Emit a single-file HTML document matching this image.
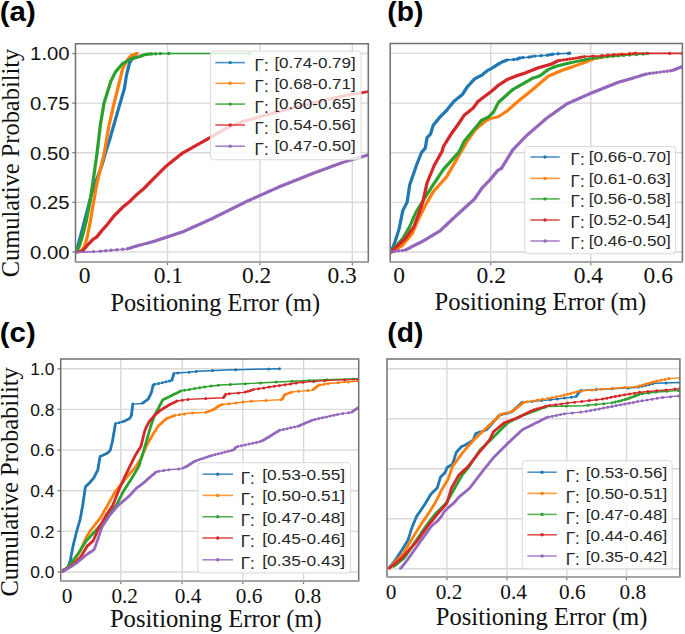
<!DOCTYPE html>
<html><head><meta charset="utf-8"><style>
html,body{margin:0;padding:0;background:#fff;}
svg{display:block;}
</style></head><body>
<svg width="685" height="634" viewBox="0 0 685 634">
<rect width="685" height="634" fill="#fff"/>
<clipPath id="clipA"><rect x="75.5" y="41.7" width="292.8" height="220.3"/></clipPath>
<line x1="75.5" x2="368.3" y1="251.9" y2="251.9" stroke="#d9d9d9" stroke-width="1.4"/>
<line x1="75.5" x2="368.3" y1="202.3" y2="202.3" stroke="#d9d9d9" stroke-width="1.4"/>
<line x1="75.5" x2="368.3" y1="152.7" y2="152.7" stroke="#d9d9d9" stroke-width="1.4"/>
<line x1="75.5" x2="368.3" y1="103.1" y2="103.1" stroke="#d9d9d9" stroke-width="1.4"/>
<line x1="75.5" x2="368.3" y1="53.5" y2="53.5" stroke="#d9d9d9" stroke-width="1.4"/>
<line x1="167.5" x2="167.5" y1="43.7" y2="262.0" stroke="#d9d9d9" stroke-width="1.4"/>
<line x1="259.9" x2="259.9" y1="43.7" y2="262.0" stroke="#d9d9d9" stroke-width="1.4"/>
<line x1="352.3" x2="352.3" y1="43.7" y2="262.0" stroke="#d9d9d9" stroke-width="1.4"/>
<line x1="72.3" x2="75.5" y1="251.9" y2="251.9" stroke="#777" stroke-width="1.2"/>
<line x1="72.3" x2="75.5" y1="202.3" y2="202.3" stroke="#777" stroke-width="1.2"/>
<line x1="72.3" x2="75.5" y1="152.7" y2="152.7" stroke="#777" stroke-width="1.2"/>
<line x1="72.3" x2="75.5" y1="103.1" y2="103.1" stroke="#777" stroke-width="1.2"/>
<line x1="72.3" x2="75.5" y1="53.5" y2="53.5" stroke="#777" stroke-width="1.2"/>
<line x1="167.5" x2="167.5" y1="262.0" y2="265.2" stroke="#777" stroke-width="1.2"/>
<line x1="259.9" x2="259.9" y1="262.0" y2="265.2" stroke="#777" stroke-width="1.2"/>
<line x1="352.3" x2="352.3" y1="262.0" y2="265.2" stroke="#777" stroke-width="1.2"/>
<g clip-path="url(#clipA)" fill="none" stroke-linejoin="round" stroke-linecap="round">
<polyline points="76,252 77.2,248.4 80.3,237 86,215.5 91,196 96.5,180 101.8,165.6 105.5,152.8 110.6,136.6 114.1,124 120.1,103.3 124.5,88.2 126.4,75.5 129.5,62.9 134.6,55.4 136.5,53.8" stroke="#1f77b4" stroke-width="1.6"/>
<path d="M76 252h0M76.2 251.5h0M76.3 251h0M76.5 250.5h0M76.7 249.9h0M76.9 249.4h0M77 248.9h0M77.2 248.4h0M77.3 247.9h0M77.5 247.4h0M77.6 246.9h0M77.8 246.4h0M77.9 245.9h0M78 245.4h0M78.2 244.9h0M78.3 244.3h0M78.4 243.8h0M78.6 243.3h0M78.7 242.8h0M78.9 242.3h0M79 241.8h0M79.1 241.3h0M79.3 240.8h0M79.4 240.3h0M79.5 239.8h0M79.7 239.3h0M79.8 238.8h0M80 238.3h0M80.1 237.8h0M80.2 237.3h0M80.4 236.8h0M80.5 236.2h0M80.6 235.8h0M80.8 235.2h0M80.9 234.8h0M81 234.2h0M81.2 233.8h0M81.3 233.2h0M81.4 232.8h0M81.6 232.2h0M81.7 231.8h0M81.8 231.2h0M82 230.8h0M82.1 230.2h0M82.2 229.8h0M82.4 229.2h0M82.5 228.8h0M82.6 228.2h0M82.8 227.8h0M82.9 227.2h0M83 226.8h0M83.2 226.2h0M83.3 225.8h0M83.4 225.2h0M83.5 224.8h0M83.7 224.2h0M83.8 223.8h0M83.9 223.2h0M84.1 222.8h0M84.2 222.2h0M84.3 221.8h0M84.5 221.2h0M84.6 220.8h0M84.7 220.2h0M84.9 219.8h0M85 219.2h0M85.1 218.8h0M85.3 218.2h0M85.4 217.8h0M85.5 217.2h0M85.7 216.8h0M85.8 216.2h0M85.9 215.8h0M86.1 215.2h0M86.2 214.8h0M86.3 214.2h0M86.4 213.8h0M86.6 213.2h0M86.7 212.8h0M86.8 212.2h0M87 211.8h0M87.1 211.2h0M87.2 210.8h0M87.3 210.2h0M87.5 209.8h0M87.6 209.2h0M87.7 208.8h0M87.9 208.2h0M88 207.8h0M88.1 207.2h0M88.2 206.8h0M88.4 206.2h0M88.5 205.8h0M88.6 205.2h0M88.8 204.8h0M88.9 204.2h0M89 203.8h0M89.1 203.2h0M89.3 202.8h0M89.4 202.2h0M89.5 201.8h0M89.7 201.2h0M89.8 200.8h0M89.9 200.2h0M90 199.8h0M90.2 199.2h0M90.3 198.8h0M90.4 198.2h0M90.6 197.8h0M90.7 197.2h0M90.8 196.8h0M90.9 196.2h0M91.1 195.8h0M91.3 195.2h0M91.4 194.8h0M91.6 194.2h0M91.8 193.8h0M91.9 193.2h0M92.1 192.8h0M92.3 192.2h0M92.5 191.8h0M92.6 191.2h0M92.8 190.8h0M93 190.2h0M93.1 189.8h0M93.3 189.2h0M93.5 188.8h0M93.7 188.2h0M93.8 187.8h0M94 187.2h0M94.2 186.8h0M94.4 186.2h0M94.5 185.8h0M94.7 185.2h0M94.9 184.8h0M95 184.2h0M95.2 183.8h0M95.4 183.2h0M95.6 182.8h0M95.7 182.2h0M95.9 181.8h0M96.1 181.2h0M96.2 180.8h0M96.4 180.2h0M96.6 179.7h0M96.8 179.2h0M97 178.7h0M97.2 178.2h0M97.3 177.7h0M97.5 177.2h0M97.7 176.7h0M97.9 176.2h0M98.1 175.7h0M98.3 175.2h0M98.5 174.7h0M98.6 174.2h0M98.8 173.7h0M99 173.2h0M99.2 172.7h0M99.4 172.2h0M99.6 171.7h0M99.8 171.2h0M99.9 170.7h0M100.1 170.1h0M100.3 169.6h0M100.5 169.1h0M100.7 168.6h0M100.9 168.1h0M101.1 167.6h0M101.2 167.1h0M101.4 166.6h0M101.6 166.1h0M101.8 165.6h0M101.9 165.1h0M102.1 164.6h0M102.2 164.1h0M102.4 163.6h0M102.5 163.1h0M102.7 162.6h0M102.8 162.1h0M103 161.6h0M103.1 161.1h0M103.3 160.6h0M103.4 160.1h0M103.5 159.6h0M103.7 159.1h0M103.8 158.6h0M104 158.1h0M104.1 157.6h0M104.3 157.1h0M104.4 156.6h0M104.6 156.1h0M104.7 155.6h0M104.8 155.1h0M105 154.6h0M105.1 154.1h0M105.3 153.6h0M105.4 153.1h0M105.6 152.5h0M105.7 152h0M105.9 151.5h0M106.1 151h0M106.2 150.5h0M106.4 150h0M106.5 149.5h0M106.7 149h0M106.9 148.5h0M107 148h0M107.2 147.5h0M107.3 147h0M107.5 146.5h0M107.7 146h0M107.8 145.5h0M108 145h0M108.1 144.4h0M108.3 143.9h0M108.4 143.4h0M108.6 142.9h0M108.8 142.4h0M108.9 141.9h0M109.1 141.4h0M109.2 140.9h0M109.4 140.4h0M109.6 139.9h0M109.7 139.4h0M109.9 138.9h0M110 138.4h0M110.2 137.9h0M110.4 137.4h0M110.5 136.9h0M110.7 136.3h0M110.8 135.8h0M110.9 135.3h0M111.1 134.8h0M111.2 134.3h0M111.4 133.8h0M111.5 133.3h0M111.6 132.8h0M111.8 132.3h0M111.9 131.8h0M112.1 131.3h0M112.2 130.8h0M112.3 130.3h0M112.5 129.8h0M112.6 129.3h0M112.8 128.8h0M112.9 128.3h0M113 127.8h0M113.2 127.3h0M113.3 126.8h0M113.5 126.3h0M113.6 125.8h0M113.8 125.3h0M113.9 124.8h0M114 124.3h0M114.2 123.7h0M114.3 123.2h0M114.5 122.7h0M114.6 122.2h0M114.8 121.7h0M114.9 121.2h0M115.1 120.7h0M115.2 120.2h0M115.3 119.7h0M115.5 119.2h0M115.6 118.7h0M115.8 118.2h0M115.9 117.7h0M116.1 117.2h0M116.2 116.7h0M116.4 116.2h0M116.5 115.7h0M116.7 115.2h0M116.8 114.7h0M117 114.2h0M117.1 113.7h0M117.2 113.1h0M117.4 112.6h0M117.5 112.1h0M117.7 111.6h0M117.8 111.1h0M118 110.6h0M118.1 110.1h0M118.3 109.6h0M118.4 109.1h0M118.6 108.6h0M118.7 108.1h0M118.9 107.6h0M119 107.1h0M119.1 106.6h0M119.3 106.1h0M119.4 105.6h0M119.6 105.1h0M119.7 104.6h0M119.9 104.1h0M120 103.6h0M120.2 103h0M120.3 102.5h0M120.5 102h0M120.6 101.5h0M120.8 101h0M120.9 100.5h0M121.1 100h0M121.2 99.5h0M121.3 99h0M121.5 98.5h0M121.6 98h0M121.8 97.5h0M121.9 97h0M122.1 96.5h0M122.2 96h0M122.4 95.5h0M122.5 95h0M122.7 94.5h0M122.8 94h0M123 93.5h0M123.1 93h0M123.3 92.5h0M123.4 92h0M123.5 91.5h0M123.7 91h0M123.8 90.5h0M124 90h0M124.1 89.5h0M124.3 89h0M124.4 88.5h0M124.5 87.9h0M124.6 87.4h0M124.7 86.9h0M124.8 86.4h0M124.8 85.9h0M124.9 85.4h0M125 84.9h0M125.1 84.4h0M125.1 83.9h0M125.2 83.4h0M125.3 82.9h0M125.4 82.4h0M125.5 81.8h0M125.5 81.3h0M125.6 80.8h0M125.7 80.3h0M125.8 79.8h0M125.8 79.3h0M125.9 78.8h0M126 78.3h0M126.1 77.8h0M126.1 77.3h0M126.2 76.8h0M126.3 76.3h0M126.4 75.8h0M126.5 75.2h0M126.6 74.7h0M126.7 74.2h0M126.8 73.7h0M127 73.2h0M127.1 72.7h0M127.2 72.2h0M127.3 71.7h0M127.5 71.2h0M127.6 70.7h0M127.7 70.2h0M127.8 69.7h0M128 69.2h0M128.1 68.7h0M128.2 68.2h0M128.3 67.7h0M128.4 67.2h0M128.6 66.7h0M128.7 66.2h0M128.8 65.7h0M128.9 65.2h0M129.1 64.7h0M129.2 64.2h0M129.3 63.7h0M129.4 63.2h0M129.7 62.6h0M130 62.1h0M130.3 61.6h0M130.7 61.1h0M131 60.6h0M131.4 60.1h0M131.7 59.6h0M132.1 59.1h0M132.4 58.6h0M132.7 58.1h0M133.1 57.6h0M133.4 57.1h0M133.8 56.6h0M134.1 56.1h0M134.4 55.6h0M134.9 55.2h0M135.4 54.7h0M136 54.3h0M136.5 53.8h0M136.5 53.8h0" stroke="#1f77b4" stroke-width="3.4"/>
<polyline points="76,252.3 77.8,252.1 81.6,250.9 84.7,245.8 87.2,237 90.2,221.9 93.5,202.5 96.8,184 104.3,152.8 109.3,124 114.1,103.3 119.4,81.9 122.6,69.2 127,60.4 131.4,55.4 137.1,53.5" stroke="#ff7f0e" stroke-width="1.6"/>
<path d="M76 252.3h0M78.8 251.8h0M80.3 251.3h0M81.8 250.6h0M82.1 250.1h0M82.4 249.6h0M82.7 249.1h0M83 248.6h0M83.3 248.1h0M83.6 247.6h0M83.9 247.1h0M84.2 246.6h0M84.5 246.1h0M84.8 245.5h0M84.9 245h0M85.1 244.5h0M85.2 244h0M85.3 243.5h0M85.5 243h0M85.6 242.5h0M85.8 242h0M85.9 241.5h0M86.1 241h0M86.2 240.5h0M86.3 240h0M86.5 239.5h0M86.6 239h0M86.8 238.5h0M86.9 238h0M87.1 237.5h0M87.2 237h0M87.3 236.5h0M87.4 236h0M87.5 235.5h0M87.6 235h0M87.7 234.5h0M87.8 234h0M87.9 233.5h0M88 233h0M88.1 232.5h0M88.2 232h0M88.3 231.5h0M88.4 231h0M88.5 230.5h0M88.6 230h0M88.7 229.4h0M88.8 228.9h0M88.9 228.4h0M89 227.9h0M89.1 227.4h0M89.2 226.9h0M89.3 226.4h0M89.4 225.9h0M89.5 225.4h0M89.6 224.9h0M89.7 224.4h0M89.8 223.9h0M89.9 223.4h0M90 222.9h0M90.1 222.4h0M90.2 221.9h0M90.3 221.4h0M90.4 220.9h0M90.5 220.4h0M90.5 219.9h0M90.6 219.4h0M90.7 218.9h0M90.8 218.4h0M90.9 217.9h0M91 217.4h0M91.1 216.9h0M91.1 216.4h0M91.2 215.9h0M91.3 215.3h0M91.4 214.8h0M91.5 214.3h0M91.6 213.8h0M91.7 213.3h0M91.7 212.8h0M91.8 212.3h0M91.9 211.8h0M92 211.3h0M92.1 210.8h0M92.2 210.3h0M92.3 209.8h0M92.3 209.3h0M92.4 208.8h0M92.5 208.3h0M92.6 207.8h0M92.7 207.3h0M92.8 206.8h0M92.9 206.3h0M92.9 205.8h0M93 205.3h0M93.1 204.8h0M93.2 204.3h0M93.3 203.8h0M93.4 203.3h0M93.5 202.8h0M93.5 202.2h0M93.6 201.8h0M93.7 201.2h0M93.8 200.8h0M93.9 200.2h0M94 199.8h0M94.1 199.2h0M94.2 198.8h0M94.3 198.2h0M94.3 197.8h0M94.4 197.2h0M94.5 196.8h0M94.6 196.2h0M94.7 195.8h0M94.8 195.2h0M94.9 194.8h0M95 194.2h0M95.1 193.8h0M95.2 193.2h0M95.2 192.8h0M95.3 192.2h0M95.4 191.8h0M95.5 191.2h0M95.6 190.8h0M95.7 190.2h0M95.8 189.8h0M95.9 189.2h0M96 188.8h0M96 188.2h0M96.1 187.8h0M96.2 187.2h0M96.3 186.8h0M96.4 186.2h0M96.5 185.8h0M96.6 185.2h0M96.7 184.8h0M96.8 184.2h0M96.9 183.7h0M97 183.2h0M97.1 182.7h0M97.2 182.2h0M97.3 181.7h0M97.5 181.2h0M97.6 180.7h0M97.7 180.2h0M97.8 179.7h0M97.9 179.2h0M98.1 178.7h0M98.2 178.2h0M98.3 177.7h0M98.4 177.2h0M98.6 176.7h0M98.7 176.2h0M98.8 175.7h0M98.9 175.2h0M99 174.7h0M99.2 174.2h0M99.3 173.7h0M99.4 173.2h0M99.5 172.7h0M99.6 172.2h0M99.8 171.7h0M99.9 171.2h0M100 170.7h0M100.1 170.2h0M100.2 169.7h0M100.4 169.2h0M100.5 168.7h0M100.6 168.1h0M100.7 167.6h0M100.9 167.1h0M101 166.6h0M101.1 166.1h0M101.2 165.6h0M101.3 165.1h0M101.5 164.6h0M101.6 164.1h0M101.7 163.6h0M101.8 163.1h0M101.9 162.6h0M102.1 162.1h0M102.2 161.6h0M102.3 161.1h0M102.4 160.6h0M102.5 160.1h0M102.7 159.6h0M102.8 159.1h0M102.9 158.6h0M103 158.1h0M103.2 157.6h0M103.3 157.1h0M103.4 156.6h0M103.5 156.1h0M103.6 155.6h0M103.8 155.1h0M103.9 154.6h0M104 154.1h0M104.1 153.6h0M104.2 153.1h0M104.3 152.5h0M104.4 152h0M104.5 151.5h0M104.6 151h0M104.7 150.5h0M104.8 150h0M104.9 149.5h0M105 149h0M105 148.5h0M105.1 148h0M105.2 147.5h0M105.3 147h0M105.4 146.5h0M105.5 146h0M105.6 145.5h0M105.6 145h0M105.7 144.5h0M105.8 144h0M105.9 143.5h0M106 143h0M106.1 142.5h0M106.2 142h0M106.3 141.5h0M106.3 141h0M106.4 140.5h0M106.5 140h0M106.6 139.5h0M106.7 139h0M106.8 138.5h0M106.9 138h0M107 137.5h0M107 137h0M107.1 136.5h0M107.2 136h0M107.3 135.5h0M107.4 135h0M107.5 134.5h0M107.6 134h0M107.6 133.5h0M107.7 133h0M107.8 132.5h0M107.9 132h0M108 131.5h0M108.1 131h0M108.2 130.5h0M108.3 130h0M108.3 129.5h0M108.4 129h0M108.5 128.5h0M108.6 128h0M108.7 127.5h0M108.8 127h0M108.9 126.5h0M109 126h0M109 125.5h0M109.1 125h0M109.2 124.5h0M109.3 124h0M109.4 123.5h0M109.5 123h0M109.7 122.5h0M109.8 122h0M109.9 121.5h0M110 121h0M110.1 120.5h0M110.2 120h0M110.4 119.5h0M110.5 119h0M110.6 118.4h0M110.7 117.9h0M110.8 117.4h0M110.9 116.9h0M111.1 116.4h0M111.2 115.9h0M111.3 115.4h0M111.4 114.9h0M111.5 114.4h0M111.6 113.9h0M111.8 113.4h0M111.9 112.9h0M112 112.4h0M112.1 111.9h0M112.2 111.4h0M112.3 110.9h0M112.5 110.4h0M112.6 109.9h0M112.7 109.4h0M112.8 108.9h0M112.9 108.3h0M113 107.8h0M113.2 107.3h0M113.3 106.8h0M113.4 106.3h0M113.5 105.8h0M113.6 105.3h0M113.7 104.8h0M113.9 104.3h0M114 103.8h0M114.1 103.3h0M114.2 102.8h0M114.3 102.3h0M114.5 101.8h0M114.6 101.3h0M114.7 100.8h0M114.8 100.3h0M115 99.8h0M115.1 99.3h0M115.2 98.8h0M115.3 98.3h0M115.5 97.8h0M115.6 97.3h0M115.7 96.8h0M115.8 96.3h0M116 95.7h0M116.1 95.2h0M116.2 94.7h0M116.3 94.2h0M116.5 93.7h0M116.6 93.2h0M116.7 92.7h0M116.8 92.2h0M117 91.7h0M117.1 91.2h0M117.2 90.7h0M117.3 90.2h0M117.5 89.7h0M117.6 89.2h0M117.7 88.7h0M117.8 88.2h0M118 87.7h0M118.1 87.2h0M118.2 86.7h0M118.3 86.2h0M118.5 85.7h0M118.6 85.2h0M118.7 84.7h0M118.8 84.2h0M119 83.7h0M119.1 83.2h0M119.2 82.7h0M119.3 82.2h0M119.5 81.6h0M119.6 81.1h0M119.7 80.6h0M119.8 80.1h0M120 79.6h0M120.1 79.1h0M120.2 78.6h0M120.4 78.1h0M120.5 77.6h0M120.6 77.1h0M120.7 76.6h0M120.9 76.1h0M121 75.6h0M121.1 75h0M121.3 74.5h0M121.4 74h0M121.5 73.5h0M121.6 73h0M121.8 72.5h0M121.9 72h0M122 71.5h0M122.2 71h0M122.3 70.5h0M122.4 70h0M122.5 69.5h0M122.7 68.9h0M123 68.4h0M123.2 67.9h0M123.5 67.4h0M123.7 66.9h0M124 66.4h0M124.2 65.9h0M124.5 65.4h0M124.7 64.9h0M125 64.4h0M125.2 63.9h0M125.5 63.4h0M125.7 62.9h0M126 62.4h0M126.2 61.9h0M126.5 61.4h0M126.7 60.9h0M127 60.4h0M127.4 59.9h0M127.9 59.4h0M128.3 58.9h0M128.8 58.4h0M129.2 57.9h0M129.6 57.4h0M130.1 56.9h0M130.5 56.4h0M131 55.9h0M131.4 55.4h0M133 54.9h0M134.5 54.4h0M136.1 53.8h0M137.1 53.5h0" stroke="#ff7f0e" stroke-width="3.4"/>
<polyline points="76.5,251.5 79,247 82.2,237 86,221.9 89.8,202.5 92.7,184 97.1,152.8 100.5,124 104,103.3 110.6,81.9 115.6,71.8 122.6,63.6 130.8,59.1 139.6,56.6 144.7,54.6 147.5,54.2 151.8,53.9 155.6,53.7 160.4,53.6 168.9,53.5 249.6,53.5" stroke="#2ca02c" stroke-width="1.6"/>
<path d="M76.5 251.5h0M76.8 251h0M77.1 250.5h0M77.3 250h0M77.6 249.5h0M77.9 249h0M78.2 248.5h0M78.4 248h0M78.7 247.5h0M79 247h0M79.2 246.5h0M79.3 246h0M79.5 245.5h0M79.6 245h0M79.8 244.5h0M80 244h0M80.1 243.5h0M80.3 243h0M80.4 242.5h0M80.6 242h0M80.8 241.5h0M80.9 241h0M81.1 240.5h0M81.2 240h0M81.4 239.5h0M81.6 239h0M81.7 238.5h0M81.9 238h0M82 237.5h0M82.2 237h0M82.3 236.5h0M82.5 236h0M82.6 235.5h0M82.7 235h0M82.8 234.5h0M83 234h0M83.1 233.5h0M83.2 233h0M83.3 232.5h0M83.5 232h0M83.6 231.5h0M83.7 231h0M83.8 230.5h0M84 230h0M84.1 229.4h0M84.2 228.9h0M84.4 228.4h0M84.5 227.9h0M84.6 227.4h0M84.7 226.9h0M84.9 226.4h0M85 225.9h0M85.1 225.4h0M85.2 224.9h0M85.4 224.4h0M85.5 223.9h0M85.6 223.4h0M85.7 222.9h0M85.9 222.4h0M86 221.9h0M86.1 221.4h0M86.2 220.9h0M86.3 220.4h0M86.4 219.9h0M86.5 219.4h0M86.6 218.9h0M86.7 218.4h0M86.8 217.9h0M86.9 217.4h0M87 216.9h0M87.1 216.4h0M87.2 215.9h0M87.3 215.3h0M87.4 214.8h0M87.5 214.3h0M87.6 213.8h0M87.7 213.3h0M87.8 212.8h0M87.9 212.3h0M88 211.8h0M88.1 211.3h0M88.2 210.8h0M88.3 210.3h0M88.4 209.8h0M88.5 209.3h0M88.6 208.8h0M88.7 208.3h0M88.8 207.8h0M88.9 207.3h0M89 206.8h0M89.1 206.3h0M89.2 205.8h0M89.3 205.3h0M89.4 204.8h0M89.5 204.3h0M89.6 203.8h0M89.7 203.3h0M89.8 202.8h0M89.8 202.2h0M89.9 201.8h0M90 201.2h0M90.1 200.8h0M90.2 200.2h0M90.2 199.8h0M90.3 199.2h0M90.4 198.8h0M90.5 198.2h0M90.5 197.8h0M90.6 197.2h0M90.7 196.8h0M90.8 196.2h0M90.9 195.8h0M90.9 195.2h0M91 194.8h0M91.1 194.2h0M91.2 193.8h0M91.2 193.2h0M91.3 192.8h0M91.4 192.2h0M91.5 191.8h0M91.6 191.2h0M91.6 190.8h0M91.7 190.2h0M91.8 189.8h0M91.9 189.2h0M92 188.8h0M92 188.2h0M92.1 187.8h0M92.2 187.2h0M92.3 186.8h0M92.3 186.2h0M92.4 185.8h0M92.5 185.2h0M92.6 184.8h0M92.7 184.2h0M92.7 183.7h0M92.8 183.2h0M92.9 182.7h0M92.9 182.2h0M93 181.7h0M93.1 181.2h0M93.2 180.7h0M93.2 180.2h0M93.3 179.7h0M93.4 179.2h0M93.4 178.7h0M93.5 178.2h0M93.6 177.7h0M93.7 177.2h0M93.7 176.7h0M93.8 176.2h0M93.9 175.7h0M93.9 175.2h0M94 174.7h0M94.1 174.2h0M94.2 173.7h0M94.2 173.2h0M94.3 172.7h0M94.4 172.2h0M94.4 171.7h0M94.5 171.2h0M94.6 170.7h0M94.7 170.2h0M94.7 169.7h0M94.8 169.2h0M94.9 168.7h0M94.9 168.1h0M95 167.6h0M95.1 167.1h0M95.1 166.6h0M95.2 166.1h0M95.3 165.6h0M95.4 165.1h0M95.4 164.6h0M95.5 164.1h0M95.6 163.6h0M95.6 163.1h0M95.7 162.6h0M95.8 162.1h0M95.9 161.6h0M95.9 161.1h0M96 160.6h0M96.1 160.1h0M96.1 159.6h0M96.2 159.1h0M96.3 158.6h0M96.4 158.1h0M96.4 157.6h0M96.5 157.1h0M96.6 156.6h0M96.6 156.1h0M96.7 155.6h0M96.8 155.1h0M96.9 154.6h0M96.9 154.1h0M97 153.6h0M97.1 153.1h0M97.1 152.5h0M97.2 152h0M97.2 151.5h0M97.3 151h0M97.4 150.5h0M97.4 150h0M97.5 149.5h0M97.5 149h0M97.6 148.5h0M97.7 148h0M97.7 147.5h0M97.8 147h0M97.8 146.5h0M97.9 146h0M98 145.5h0M98 145h0M98.1 144.5h0M98.1 144h0M98.2 143.5h0M98.3 143h0M98.3 142.5h0M98.4 142h0M98.4 141.5h0M98.5 141h0M98.5 140.5h0M98.6 140h0M98.7 139.5h0M98.7 139h0M98.8 138.5h0M98.8 138h0M98.9 137.5h0M99 137h0M99 136.5h0M99.1 136h0M99.1 135.5h0M99.2 135h0M99.3 134.5h0M99.3 134h0M99.4 133.5h0M99.4 133h0M99.5 132.5h0M99.6 132h0M99.6 131.5h0M99.7 131h0M99.7 130.5h0M99.8 130h0M99.8 129.5h0M99.9 129h0M100 128.5h0M100 128h0M100.1 127.5h0M100.1 127h0M100.2 126.5h0M100.3 126h0M100.3 125.5h0M100.4 125h0M100.4 124.5h0M100.5 124h0M100.6 123.5h0M100.7 123h0M100.8 122.5h0M100.8 122h0M100.9 121.5h0M101 121h0M101.1 120.5h0M101.2 120h0M101.3 119.5h0M101.4 119h0M101.4 118.4h0M101.5 117.9h0M101.6 117.4h0M101.7 116.9h0M101.8 116.4h0M101.9 115.9h0M102 115.4h0M102 114.9h0M102.1 114.4h0M102.2 113.9h0M102.3 113.4h0M102.4 112.9h0M102.5 112.4h0M102.5 111.9h0M102.6 111.4h0M102.7 110.9h0M102.8 110.4h0M102.9 109.9h0M103 109.4h0M103.1 108.9h0M103.1 108.3h0M103.2 107.8h0M103.3 107.3h0M103.4 106.8h0M103.5 106.3h0M103.6 105.8h0M103.7 105.3h0M103.7 104.8h0M103.8 104.3h0M103.9 103.8h0M104 103.3h0M104.2 102.8h0M104.3 102.3h0M104.5 101.8h0M104.6 101.3h0M104.8 100.8h0M104.9 100.3h0M105.1 99.8h0M105.2 99.3h0M105.4 98.8h0M105.6 98.3h0M105.7 97.8h0M105.9 97.3h0M106 96.8h0M106.2 96.3h0M106.3 95.7h0M106.5 95.2h0M106.6 94.7h0M106.8 94.2h0M107 93.7h0M107.1 93.2h0M107.3 92.7h0M107.4 92.2h0M107.6 91.7h0M107.7 91.2h0M107.9 90.7h0M108 90.2h0M108.2 89.7h0M108.3 89.2h0M108.5 88.7h0M108.7 88.2h0M108.8 87.7h0M109 87.2h0M109.1 86.7h0M109.3 86.2h0M109.4 85.7h0M109.6 85.2h0M109.7 84.7h0M109.9 84.2h0M110.1 83.7h0M110.2 83.2h0M110.4 82.7h0M110.5 82.2h0M110.7 81.6h0M111 81.1h0M111.2 80.6h0M111.5 80.1h0M111.7 79.6h0M112 79.1h0M112.2 78.6h0M112.5 78.1h0M112.7 77.6h0M113 77.1h0M113.2 76.6h0M113.5 76.1h0M113.7 75.6h0M114 75.1h0M114.2 74.6h0M114.5 74.1h0M114.7 73.6h0M115 73.1h0M115.2 72.6h0M115.5 72.1h0M115.8 71.5h0M116.3 71h0M116.7 70.5h0M117.1 70h0M117.6 69.5h0M118 69h0M118.4 68.5h0M118.9 68h0M119.3 67.4h0M119.8 66.9h0M120.2 66.4h0M120.6 65.9h0M121.1 65.4h0M121.5 64.9h0M121.9 64.4h0M122.4 63.9h0M123.1 63.3h0M124.1 62.8h0M125.2 62.2h0M126.2 61.6h0M127.2 61.1h0M128.2 60.5h0M129.3 59.9h0M130.3 59.4h0M131.6 58.9h0M133.3 58.4h0M135.1 57.9h0M136.8 57.4h0M138.6 56.9h0M140.1 56.4h0M141.4 55.9h0M142.7 55.4h0M143.9 54.9h0M146 54.4h0M151 54h0M168.7 53.5h0M249.6 53.5h0M147.5 54.2h0M149.5 54h0M151.8 53.9h0M155.6 53.7h0M160.4 53.6h0M168.9 53.5h0" stroke="#2ca02c" stroke-width="3.4"/>
<polyline points="76.5,252.1 82.8,250.9 87.9,244.6 92.9,239.5 96.7,237 101.8,230.7 107.4,224.4 114.4,215.5 123.2,206.7 129.5,201.7 135.8,195.4 144.7,187.8 150,182.2 166.1,166.1 182.2,153.3 207.9,138.8 230.4,125.9 246.5,120.5 278.7,111.5 310.8,103.4 343,96 368.3,91.5" stroke="#d62728" stroke-width="1.6"/>
<path d="M76.5 252.1h0M79 251.6h0M81.5 251.1h0M83 250.6h0M83.4 250.1h0M83.8 249.6h0M84.2 249.1h0M84.6 248.6h0M85 248.1h0M85.5 247.6h0M85.9 247.1h0M86.3 246.6h0M86.7 246.1h0M87.1 245.6h0M87.5 245.1h0M87.9 244.6h0M88.4 244.1h0M88.9 243.6h0M89.4 243.1h0M89.9 242.6h0M90.4 242.1h0M90.9 241.5h0M91.4 241h0M91.9 240.5h0M92.4 240h0M92.9 239.5h0M93.7 239h0M94.4 238.5h0M95.2 238h0M95.9 237.5h0M96.7 237h0M97.1 236.5h0M97.5 236h0M97.9 235.5h0M98.3 235h0M98.7 234.5h0M99.1 234h0M99.6 233.5h0M100 233h0M100.4 232.5h0M100.8 232h0M101.2 231.5h0M101.6 231h0M102 230.4h0M102.5 229.9h0M102.9 229.4h0M103.4 228.9h0M103.8 228.4h0M104.3 227.9h0M104.7 227.4h0M105.2 226.9h0M105.6 226.4h0M106.1 225.9h0M106.5 225.4h0M107 224.9h0M107.4 224.4h0M107.8 223.9h0M108.2 223.4h0M108.6 222.9h0M109 222.4h0M109.4 221.9h0M109.8 221.3h0M110.2 220.8h0M110.6 220.3h0M111 219.8h0M111.4 219.3h0M111.8 218.8h0M112.2 218.3h0M112.6 217.8h0M113 217.3h0M113.4 216.8h0M113.8 216.3h0M114.2 215.8h0M114.7 215.2h0M115.2 214.7h0M115.7 214.2h0M116.2 213.7h0M116.7 213.2h0M117.2 212.7h0M117.7 212.2h0M118.2 211.7h0M118.7 211.2h0M119.2 210.7h0M119.7 210.2h0M120.2 209.7h0M120.7 209.2h0M121.2 208.7h0M121.7 208.2h0M122.2 207.7h0M122.7 207.2h0M123.2 206.7h0M124 206.1h0M124.7 205.5h0M125.5 204.9h0M126.2 204.3h0M127 203.7h0M127.7 203.1h0M128.5 202.5h0M129.2 201.9h0M129.8 201.4h0M130.3 200.9h0M130.8 200.4h0M131.3 199.9h0M131.8 199.4h0M132.3 198.9h0M132.8 198.4h0M133.3 197.9h0M133.8 197.4h0M134.3 196.9h0M134.8 196.4h0M135.3 195.9h0M135.8 195.4h0M136.6 194.7h0M137.3 194.1h0M138.1 193.4h0M138.9 192.8h0M139.6 192.1h0M140.4 191.5h0M141.1 190.8h0M141.9 190.2h0M142.7 189.5h0M143.4 188.9h0M144.2 188.2h0M144.9 187.5h0M145.4 187h0M145.9 186.5h0M146.4 186h0M146.9 185.5h0M147.3 185h0M147.8 184.5h0M148.3 184h0M148.8 183.5h0M149.3 183h0M149.8 182.5h0M150.3 181.9h0M150.8 181.4h0M151.3 180.9h0M151.8 180.4h0M152.3 179.9h0M152.8 179.4h0M153.3 178.9h0M153.8 178.4h0M154.3 177.9h0M154.8 177.4h0M155.3 176.9h0M155.8 176.4h0M156.3 175.9h0M156.8 175.4h0M157.3 174.9h0M157.8 174.4h0M158.3 173.9h0M158.8 173.4h0M159.3 172.9h0M159.8 172.4h0M160.3 171.9h0M160.8 171.4h0M161.3 170.9h0M161.8 170.4h0M162.3 169.9h0M162.8 169.4h0M163.3 168.9h0M163.8 168.4h0M164.3 167.9h0M164.8 167.4h0M165.3 166.9h0M165.8 166.4h0M166.4 165.9h0M167.1 165.3h0M167.9 164.7h0M168.6 164.1h0M169.4 163.5h0M170.1 162.9h0M170.9 162.3h0M171.6 161.7h0M172.4 161.1h0M173.1 160.5h0M173.9 159.9h0M174.7 159.3h0M175.4 158.7h0M176.2 158.1h0M176.9 157.5h0M177.7 156.9h0M178.4 156.3h0M179.2 155.7h0M179.9 155.1h0M180.7 154.5h0M181.4 153.9h0M182.2 153.3h0M183.2 152.7h0M184.2 152.2h0M185.2 151.6h0M186.2 151h0M187.2 150.5h0M188.2 149.9h0M189.3 149.3h0M190.3 148.8h0M191.3 148.2h0M192.3 147.6h0M193.3 147h0M194.3 146.5h0M195.3 145.9h0M196.3 145.3h0M197.3 144.8h0M198.3 144.2h0M199.3 143.6h0M200.3 143.1h0M201.3 142.5h0M202.4 141.9h0M203.4 141.4h0M204.4 140.8h0M205.4 140.2h0M206.4 139.7h0M207.4 139.1h0M208.4 138.5h0M209.4 137.9h0M210.4 137.4h0M211.4 136.8h0M212.4 136.2h0M213.4 135.6h0M214.4 135.1h0M215.4 134.5h0M216.4 133.9h0M217.4 133.4h0M218.4 132.8h0M219.4 132.2h0M220.4 131.6h0M221.4 131.1h0M222.4 130.5h0M223.4 129.9h0M224.4 129.3h0M225.4 128.8h0M226.4 128.2h0M227.4 127.6h0M228.4 127h0M229.4 126.5h0M230.4 125.9h0M231.9 125.4h0M233.4 124.9h0M234.9 124.4h0M236.4 123.9h0M237.9 123.4h0M239.5 122.9h0M241 122.4h0M242.5 121.8h0M244 121.3h0M245.5 120.8h0M247 120.4h0M248.8 119.9h0M250.5 119.4h0M252.3 118.9h0M254 118.4h0M255.8 117.9h0M257.6 117.4h0M259.3 116.9h0M261.1 116.4h0M262.9 115.9h0M264.6 115.4h0M266.4 114.9h0M268.1 114.5h0M269.9 114h0M271.7 113.5h0M273.4 113h0M275.2 112.5h0M276.9 112h0M278.7 111.5h0M280.7 111h0M282.7 110.5h0M284.7 110h0M286.7 109.5h0M288.7 109h0M290.7 108.5h0M292.7 108h0M294.8 107.5h0M296.8 106.9h0M298.8 106.4h0M300.8 105.9h0M302.8 105.4h0M304.8 104.9h0M306.8 104.4h0M308.8 103.9h0M310.8 103.4h0M312.8 102.9h0M314.8 102.5h0M316.8 102h0M318.9 101.6h0M320.9 101.1h0M322.9 100.6h0M324.9 100.2h0M326.9 99.7h0M328.9 99.2h0M330.9 98.8h0M332.9 98.3h0M334.9 97.8h0M337 97.4h0M339 96.9h0M341 96.5h0M343 96h0M345.8 95.5h0M348.5 95h0M351.3 94.5h0M354 94h0M356.8 93.5h0M359.5 93.1h0M362.3 92.6h0M365 92.1h0M367.8 91.6h0M368.3 91.5h0" stroke="#d62728" stroke-width="3.4"/>
<polyline points="76.5,252.1 84.1,252.1 96.7,251.5 111.9,250.2 127,249 137.1,245.8 154,241.4 182.2,232.1 214.3,217.6 246.5,201.5 278.7,187.1 310.8,174.2 343,162.3 368.3,154.9" stroke="#9467bd" stroke-width="1.6"/>
<path d="M76.5 252.1h0M93.7 251.6h0M100.5 251.2h0M105.8 250.7h0M111.1 250.3h0M116.9 249.8h0M122.7 249.3h0M127.5 248.8h0M129 248.4h0M130.5 247.9h0M132.1 247.4h0M133.6 246.9h0M135.1 246.4h0M136.6 246h0M138.4 245.5h0M140.1 245h0M141.9 244.6h0M143.7 244.1h0M145.4 243.6h0M147.2 243.2h0M149 242.7h0M150.7 242.3h0M152.5 241.8h0M154.3 241.3h0M155.8 240.8h0M157.3 240.3h0M158.8 239.8h0M160.3 239.3h0M161.8 238.8h0M163.3 238.3h0M164.8 237.8h0M166.3 237.3h0M167.8 236.8h0M169.4 236.3h0M170.9 235.8h0M172.4 235.3h0M173.9 234.8h0M175.4 234.3h0M176.9 233.8h0M178.4 233.3h0M179.9 232.8h0M181.4 232.3h0M182.7 231.9h0M183.7 231.4h0M184.7 231h0M185.7 230.5h0M186.7 230.1h0M187.7 229.6h0M188.7 229.2h0M189.7 228.7h0M190.7 228.2h0M191.7 227.8h0M192.7 227.3h0M193.7 226.9h0M194.7 226.4h0M195.7 226h0M196.7 225.5h0M197.7 225.1h0M198.8 224.6h0M199.8 224.2h0M200.8 223.7h0M201.8 223.3h0M202.8 222.8h0M203.8 222.4h0M204.8 221.9h0M205.8 221.5h0M206.8 221h0M207.8 220.5h0M208.8 220.1h0M209.8 219.6h0M210.8 219.2h0M211.8 218.7h0M212.8 218.3h0M213.8 217.8h0M214.8 217.3h0M215.8 216.8h0M216.8 216.3h0M217.8 215.8h0M218.8 215.3h0M219.8 214.8h0M220.8 214.3h0M221.8 213.8h0M222.9 213.3h0M223.9 212.8h0M224.9 212.3h0M225.9 211.8h0M226.9 211.3h0M227.9 210.8h0M228.9 210.3h0M229.9 209.8h0M230.9 209.3h0M231.9 208.8h0M232.9 208.3h0M233.9 207.8h0M234.9 207.3h0M235.9 206.8h0M236.9 206.3h0M237.9 205.8h0M239 205.3h0M240 204.8h0M241 204.3h0M242 203.8h0M243 203.3h0M244 202.8h0M245 202.3h0M246 201.8h0M247 201.3h0M248 200.8h0M249.3 200.3h0M250.5 199.7h0M251.8 199.1h0M253 198.6h0M254.3 198h0M255.6 197.4h0M256.8 196.9h0M258.1 196.3h0M259.3 195.8h0M260.6 195.2h0M261.8 194.6h0M263.1 194.1h0M264.4 193.5h0M265.6 192.9h0M266.9 192.4h0M268.1 191.8h0M269.4 191.3h0M270.6 190.7h0M271.9 190.1h0M273.2 189.6h0M274.4 189h0M275.7 188.4h0M276.9 187.9h0M278.2 187.3h0M279.5 186.8h0M280.7 186.3h0M282 185.8h0M283.2 185.3h0M284.5 184.8h0M285.7 184.3h0M287 183.8h0M288.2 183.3h0M289.5 182.8h0M290.7 182.3h0M292 181.8h0M293.2 181.3h0M294.5 180.8h0M295.8 180.2h0M297 179.7h0M298.3 179.2h0M299.5 178.7h0M300.8 178.2h0M302 177.7h0M303.3 177.2h0M304.5 176.7h0M305.8 176.2h0M307 175.7h0M308.3 175.2h0M309.5 174.7h0M310.8 174.2h0M312.1 173.7h0M313.3 173.3h0M314.6 172.8h0M315.8 172.3h0M317.1 171.9h0M318.3 171.4h0M319.6 170.9h0M320.9 170.5h0M322.1 170h0M323.4 169.6h0M324.6 169.1h0M325.9 168.6h0M327.2 168.2h0M328.4 167.7h0M329.7 167.2h0M330.9 166.8h0M332.2 166.3h0M333.4 165.8h0M334.7 165.4h0M336 164.9h0M337.2 164.4h0M338.5 164h0M339.7 163.5h0M341 163h0M342.2 162.6h0M343.8 162.1h0M345.5 161.6h0M347.3 161.1h0M349 160.5h0M350.8 160h0M352.5 159.5h0M354.3 159h0M356 158.5h0M357.8 158h0M359.5 157.5h0M361.3 157h0M363 156.4h0M364.8 155.9h0M366.5 155.4h0M368.3 154.9h0M368.3 154.9h0" stroke="#9467bd" stroke-width="3.4"/>
</g>
<path d="M75.5,262.0 L75.5,43.7 L368.3,43.7 L368.3,262.0" fill="none" stroke="#707070" stroke-width="1.5"/>
<line x1="74.8" x2="369" y1="262.0" y2="262.0" stroke="#a5a5a5" stroke-width="2"/>
<rect x="210.4" y="51.1" width="150.6" height="108.6" rx="3" fill="#fff" fill-opacity="0.8" stroke="#dadada" stroke-width="1"/>
<line x1="215.3" x2="245" y1="62.6" y2="62.6" stroke="#1f77b4" stroke-width="1.6" stroke-opacity="0.8"/>
<circle cx="230.2" cy="62.6" r="1.7" fill="#1f77b4"/>
<text x="254.6" y="71.1" font-family="Liberation Sans, sans-serif" font-size="17" fill="#262626">Γ:</text>
<text x="274.4" y="67.8" font-family="Liberation Sans, sans-serif" font-size="15.3" fill="#262626" textLength="81.4" lengthAdjust="spacingAndGlyphs">[0.74-0.79]</text>
<line x1="215.3" x2="245" y1="83.3" y2="83.3" stroke="#ff7f0e" stroke-width="1.6" stroke-opacity="0.8"/>
<circle cx="230.2" cy="83.3" r="1.7" fill="#ff7f0e"/>
<text x="254.6" y="91.8" font-family="Liberation Sans, sans-serif" font-size="17" fill="#262626">Γ:</text>
<text x="274.4" y="88.5" font-family="Liberation Sans, sans-serif" font-size="15.3" fill="#262626" textLength="81.4" lengthAdjust="spacingAndGlyphs">[0.68-0.71]</text>
<line x1="215.3" x2="245" y1="104.1" y2="104.1" stroke="#2ca02c" stroke-width="1.6" stroke-opacity="0.8"/>
<circle cx="230.2" cy="104.1" r="1.7" fill="#2ca02c"/>
<text x="254.6" y="112.6" font-family="Liberation Sans, sans-serif" font-size="17" fill="#262626">Γ:</text>
<text x="274.4" y="109.3" font-family="Liberation Sans, sans-serif" font-size="15.3" fill="#262626" textLength="81.4" lengthAdjust="spacingAndGlyphs">[0.60-0.65]</text>
<line x1="215.3" x2="245" y1="125" y2="125" stroke="#d62728" stroke-width="1.6" stroke-opacity="0.8"/>
<circle cx="230.2" cy="125" r="1.7" fill="#d62728"/>
<text x="254.6" y="133.5" font-family="Liberation Sans, sans-serif" font-size="17" fill="#262626">Γ:</text>
<text x="274.4" y="130.2" font-family="Liberation Sans, sans-serif" font-size="15.3" fill="#262626" textLength="81.4" lengthAdjust="spacingAndGlyphs">[0.54-0.56]</text>
<line x1="215.3" x2="245" y1="146.2" y2="146.2" stroke="#9467bd" stroke-width="1.6" stroke-opacity="0.8"/>
<circle cx="230.2" cy="146.2" r="1.7" fill="#9467bd"/>
<text x="254.6" y="154.7" font-family="Liberation Sans, sans-serif" font-size="17" fill="#262626">Γ:</text>
<text x="274.4" y="151.4" font-family="Liberation Sans, sans-serif" font-size="15.3" fill="#262626" textLength="81.4" lengthAdjust="spacingAndGlyphs">[0.47-0.50]</text>
<text x="69.6" y="258.7" font-family="Liberation Sans, sans-serif" font-size="19" text-anchor="end" fill="#111" textLength="39.5" lengthAdjust="spacingAndGlyphs">0.00</text>
<text x="69.6" y="209.1" font-family="Liberation Sans, sans-serif" font-size="19" text-anchor="end" fill="#111" textLength="39.5" lengthAdjust="spacingAndGlyphs">0.25</text>
<text x="69.6" y="159.5" font-family="Liberation Sans, sans-serif" font-size="19" text-anchor="end" fill="#111" textLength="39.5" lengthAdjust="spacingAndGlyphs">0.50</text>
<text x="69.6" y="109.9" font-family="Liberation Sans, sans-serif" font-size="19" text-anchor="end" fill="#111" textLength="39.5" lengthAdjust="spacingAndGlyphs">0.75</text>
<text x="69.6" y="60.3" font-family="Liberation Sans, sans-serif" font-size="19" text-anchor="end" fill="#111" textLength="39.5" lengthAdjust="spacingAndGlyphs">1.00</text>
<text x="84.6" y="283.3" font-family="Liberation Serif, serif" font-size="23.5" text-anchor="middle" fill="#111">0</text>
<text x="168.4" y="283.3" font-family="Liberation Serif, serif" font-size="23.5" text-anchor="middle" fill="#111">0.1</text>
<text x="256.6" y="283.3" font-family="Liberation Serif, serif" font-size="23.5" text-anchor="middle" fill="#111">0.2</text>
<text x="342.1" y="283.3" font-family="Liberation Serif, serif" font-size="23.5" text-anchor="middle" fill="#111">0.3</text>
<text x="110.4" y="310.5" font-family="Liberation Serif, serif" font-size="24.8" fill="#111" textLength="209.8" lengthAdjust="spacingAndGlyphs">Positioning Error (m)</text>
<text transform="translate(19.4,277.2) rotate(-90)" x="0" y="0" font-family="Liberation Serif, serif" font-size="24.8" fill="#111" textLength="228.4" lengthAdjust="spacingAndGlyphs">Cumulative Probability</text>
<text x="-0.2" y="21.4" font-family="Liberation Sans, sans-serif" font-weight="bold" font-size="27.5" fill="#000" textLength="36" lengthAdjust="spacingAndGlyphs">(a)</text>
<clipPath id="clipB"><rect x="390.2" y="41.6" width="292.2" height="220.4"/></clipPath>
<line x1="390.2" x2="682.4" y1="252.0" y2="252.0" stroke="#d9d9d9" stroke-width="1.4"/>
<line x1="390.2" x2="682.4" y1="202.4" y2="202.4" stroke="#d9d9d9" stroke-width="1.4"/>
<line x1="390.2" x2="682.4" y1="152.7" y2="152.7" stroke="#d9d9d9" stroke-width="1.4"/>
<line x1="390.2" x2="682.4" y1="103.1" y2="103.1" stroke="#d9d9d9" stroke-width="1.4"/>
<line x1="390.2" x2="682.4" y1="53.4" y2="53.4" stroke="#d9d9d9" stroke-width="1.4"/>
<line x1="490.7" x2="490.7" y1="43.6" y2="262.0" stroke="#d9d9d9" stroke-width="1.4"/>
<line x1="590.8" x2="590.8" y1="43.6" y2="262.0" stroke="#d9d9d9" stroke-width="1.4"/>
<line x1="490.7" x2="490.7" y1="262.0" y2="265.2" stroke="#777" stroke-width="1.2"/>
<line x1="590.8" x2="590.8" y1="262.0" y2="265.2" stroke="#777" stroke-width="1.2"/>
<g clip-path="url(#clipB)" fill="none" stroke-linejoin="round" stroke-linecap="round">
<polyline points="391.1,251.8 394.9,242.2 399.3,228.3 402.7,211 407.1,202.3 409.7,185 416.6,165 421.8,152 425.3,148.1 427,137.7 430.5,134.2 433.1,125.5 440,116.9 447,109.9 453.9,101.3 462.6,94.3 466.9,87.4 474.7,78.7 481.7,75.2 487.8,70.2 490,69.4 495.8,65.7 501.7,62.1 507.5,59.9 516.3,59.4 520.7,57.7 528,57.2 533.8,56.2 547.7,55.2 554.2,54 569.6,53.3" stroke="#1f77b4" stroke-width="1.6"/>
<path d="M391.1 251.8h0M391.3 251.3h0M391.5 250.8h0M391.7 250.3h0M391.9 249.8h0M392.1 249.3h0M392.3 248.8h0M392.5 248.3h0M392.7 247.8h0M392.9 247.3h0M393.1 246.7h0M393.3 246.2h0M393.5 245.7h0M393.7 245.2h0M393.9 244.7h0M394.1 244.2h0M394.3 243.7h0M394.5 243.2h0M394.7 242.7h0M394.9 242.2h0M395.1 241.7h0M395.2 241.2h0M395.4 240.7h0M395.5 240.2h0M395.7 239.7h0M395.9 239.2h0M396 238.7h0M396.2 238.2h0M396.3 237.7h0M396.5 237.1h0M396.7 236.6h0M396.8 236.1h0M397 235.6h0M397.1 235.1h0M397.3 234.6h0M397.5 234.1h0M397.6 233.6h0M397.8 233.1h0M397.9 232.6h0M398.1 232.1h0M398.3 231.6h0M398.4 231.1h0M398.6 230.6h0M398.7 230.1h0M398.9 229.6h0M399.1 229.1h0M399.2 228.6h0M399.3 228h0M399.4 227.5h0M399.5 227h0M399.6 226.5h0M399.7 226h0M399.8 225.5h0M399.9 225h0M400 224.5h0M400.1 224h0M400.2 223.5h0M400.3 223h0M400.4 222.5h0M400.5 222h0M400.6 221.5h0M400.7 221h0M400.8 220.5h0M400.9 220h0M401 219.5h0M401.1 219h0M401.2 218.5h0M401.3 218h0M401.4 217.5h0M401.5 217h0M401.6 216.5h0M401.7 216h0M401.8 215.5h0M401.9 215h0M402 214.5h0M402.1 214h0M402.2 213.5h0M402.3 213h0M402.4 212.5h0M402.5 212h0M402.6 211.5h0M402.7 211h0M403 210.5h0M403.2 210h0M403.5 209.5h0M403.7 209h0M404 208.4h0M404.3 207.9h0M404.5 207.4h0M404.8 206.9h0M405 206.4h0M405.3 205.9h0M405.5 205.4h0M405.8 204.9h0M406.1 204.3h0M406.3 203.8h0M406.6 203.3h0M406.8 202.8h0M407.1 202.3h0M407.2 201.8h0M407.3 201.3h0M407.3 200.8h0M407.4 200.3h0M407.5 199.8h0M407.6 199.3h0M407.6 198.8h0M407.7 198.3h0M407.8 197.8h0M407.9 197.3h0M407.9 196.8h0M408 196.3h0M408.1 195.8h0M408.2 195.3h0M408.2 194.8h0M408.3 194.3h0M408.4 193.8h0M408.5 193.3h0M408.5 192.8h0M408.6 192.3h0M408.7 191.8h0M408.8 191.3h0M408.8 190.8h0M408.9 190.3h0M409 189.8h0M409.1 189.3h0M409.1 188.8h0M409.2 188.3h0M409.3 187.8h0M409.4 187.3h0M409.4 186.8h0M409.5 186.3h0M409.6 185.8h0M409.7 185.3h0M409.8 184.8h0M410 184.2h0M410.1 183.8h0M410.3 183.2h0M410.5 182.8h0M410.6 182.2h0M410.8 181.8h0M411 181.2h0M411.2 180.8h0M411.3 180.2h0M411.5 179.8h0M411.7 179.2h0M411.9 178.8h0M412 178.2h0M412.2 177.8h0M412.4 177.2h0M412.5 176.8h0M412.7 176.2h0M412.9 175.8h0M413.1 175.2h0M413.2 174.8h0M413.4 174.2h0M413.6 173.8h0M413.8 173.2h0M413.9 172.8h0M414.1 172.2h0M414.3 171.8h0M414.4 171.2h0M414.6 170.8h0M414.8 170.2h0M415 169.8h0M415.1 169.2h0M415.3 168.8h0M415.5 168.2h0M415.7 167.8h0M415.8 167.2h0M416 166.8h0M416.2 166.2h0M416.3 165.8h0M416.5 165.2h0M416.7 164.8h0M416.9 164.2h0M417.1 163.8h0M417.3 163.2h0M417.5 162.8h0M417.7 162.2h0M417.9 161.8h0M418.1 161.2h0M418.3 160.8h0M418.5 160.2h0M418.7 159.8h0M418.9 159.2h0M419.1 158.8h0M419.3 158.2h0M419.5 157.8h0M419.7 157.2h0M419.9 156.8h0M420.1 156.2h0M420.3 155.8h0M420.5 155.2h0M420.7 154.8h0M420.9 154.2h0M421.1 153.8h0M421.3 153.2h0M421.5 152.8h0M421.7 152.2h0M422 151.7h0M422.5 151.2h0M423 150.7h0M423.4 150.2h0M423.9 149.7h0M424.4 149.1h0M424.8 148.6h0M425.3 148.1h0M425.4 147.6h0M425.5 147.1h0M425.5 146.6h0M425.6 146.1h0M425.7 145.6h0M425.8 145.1h0M425.9 144.5h0M426 144h0M426 143.5h0M426.1 143h0M426.2 142.5h0M426.3 142h0M426.4 141.5h0M426.5 141h0M426.5 140.5h0M426.6 140h0M426.7 139.5h0M426.8 139h0M426.9 138.5h0M427 138h0M427.2 137.4h0M427.8 136.9h0M428.2 136.4h0M428.8 135.9h0M429.2 135.4h0M429.8 134.9h0M430.2 134.4h0M430.6 133.9h0M430.7 133.4h0M430.9 132.9h0M431 132.4h0M431.2 131.9h0M431.3 131.4h0M431.5 130.9h0M431.6 130.4h0M431.8 129.8h0M432 129.3h0M432.1 128.8h0M432.3 128.3h0M432.4 127.8h0M432.6 127.3h0M432.7 126.8h0M432.9 126.3h0M433 125.8h0M433.3 125.2h0M433.7 124.7h0M434.1 124.2h0M434.5 123.7h0M434.9 123.2h0M435.3 122.7h0M435.7 122.2h0M436.1 121.7h0M436.6 121.2h0M437 120.7h0M437.4 120.2h0M437.8 119.7h0M438.2 119.2h0M438.6 118.7h0M439 118.2h0M439.4 117.7h0M439.8 117.2h0M440.2 116.7h0M440.8 116.2h0M441.2 115.7h0M441.8 115.2h0M442.2 114.7h0M442.8 114.2h0M443.2 113.7h0M443.8 113.2h0M444.2 112.7h0M444.8 112.2h0M445.2 111.7h0M445.8 111.2h0M446.2 110.7h0M446.8 110.2h0M447.2 109.6h0M447.6 109.1h0M448 108.6h0M448.4 108.1h0M448.8 107.6h0M449.2 107.1h0M449.6 106.6h0M450 106.1h0M450.4 105.6h0M450.9 105.1h0M451.3 104.6h0M451.7 104.1h0M452.1 103.6h0M452.5 103.1h0M452.9 102.6h0M453.3 102.1h0M453.7 101.6h0M454.2 101.1h0M454.9 100.5h0M455.7 99.9h0M456.5 99.2h0M457.2 98.6h0M458 98h0M458.8 97.4h0M459.5 96.8h0M460.3 96.2h0M461.1 95.5h0M461.8 94.9h0M462.6 94.3h0M462.9 93.8h0M463.2 93.3h0M463.6 92.8h0M463.9 92.3h0M464.2 91.7h0M464.5 91.2h0M464.8 90.7h0M465.1 90.2h0M465.5 89.7h0M465.8 89.2h0M466.1 88.7h0M466.4 88.2h0M466.7 87.7h0M467.1 87.1h0M467.6 86.6h0M468 86.1h0M468.5 85.6h0M469 85.1h0M469.4 84.6h0M469.9 84.1h0M470.3 83.6h0M470.8 83.1h0M471.3 82.5h0M471.7 82h0M472.2 81.5h0M472.6 81h0M473.1 80.5h0M473.6 80h0M474 79.5h0M474.5 79h0M475.2 78.5h0M476.2 78h0M477.2 77.5h0M478.2 77h0M479.2 76.5h0M480.2 76h0M481.2 75.5h0M482 75h0M482.7 74.4h0M483.5 73.7h0M484.2 73.1h0M485 72.5h0M485.8 71.9h0M486.5 71.2h0M487.3 70.6h0M488.1 70.1h0M489.4 69.6h0M490.5 69.1h0M491.3 68.6h0M492 68.1h0M492.8 67.6h0M493.5 67.1h0M494.3 66.7h0M495 66.2h0M495.8 65.7h0M496.6 65.2h0M497.3 64.8h0M498.1 64.3h0M498.9 63.8h0M499.6 63.4h0M500.4 62.9h0M501.2 62.4h0M502.2 61.9h0M503.5 61.4h0M504.7 61h0M506 60.5h0M507.2 60h0M513.8 59.5h0M517.3 59h0M518.6 58.5h0M519.9 58h0M523 57.5h0M528.8 57.1h0M531.5 56.6h0M534.8 56.1h0M541.1 55.7h0M547.4 55.2h0M550.2 54.7h0M552.7 54.3h0M558.2 53.8h0M568.3 53.4h0M569.6 53.3h0" stroke="#1f77b4" stroke-width="3.4"/>
<polyline points="391.1,252.5 401.9,245.7 412.3,233.5 419.2,217.9 426.2,204 433.1,191.9 447,176.3 460.9,152 468,140 475,130 482,124 485.2,121.2 490,118.6 498,116.9 507.1,110.9 518.5,100.9 532.7,89.5 548.4,76 563,70.1 577.6,65 593.8,58.8 606.9,56.2 621.5,54 636.1,53.3" stroke="#ff7f0e" stroke-width="1.6"/>
<path d="M391.1 252.5h0M391.9 252h0M392.6 251.6h0M393.4 251.1h0M394.1 250.6h0M394.9 250.1h0M395.6 249.7h0M396.4 249.2h0M397.1 248.7h0M397.9 248.2h0M398.6 247.8h0M399.4 247.3h0M400.1 246.8h0M400.9 246.3h0M401.6 245.9h0M402.3 245.2h0M402.8 244.7h0M403.2 244.2h0M403.6 243.7h0M404.1 243.2h0M404.5 242.6h0M404.9 242.1h0M405.4 241.6h0M405.8 241.1h0M406.2 240.6h0M406.7 240.1h0M407.1 239.6h0M407.5 239.1h0M408 238.6h0M408.4 238.1h0M408.8 237.6h0M409.3 237.1h0M409.7 236.6h0M410.1 236h0M410.6 235.5h0M411 235h0M411.4 234.5h0M411.9 234h0M412.3 233.5h0M412.5 233h0M412.7 232.5h0M413 232h0M413.2 231.5h0M413.4 231h0M413.6 230.5h0M413.9 230h0M414.1 229.5h0M414.3 229h0M414.5 228.5h0M414.7 228h0M415 227.5h0M415.2 227h0M415.4 226.5h0M415.6 226h0M415.9 225.4h0M416.1 224.9h0M416.3 224.4h0M416.5 223.9h0M416.8 223.4h0M417 222.9h0M417.2 222.4h0M417.4 221.9h0M417.6 221.4h0M417.9 220.9h0M418.1 220.4h0M418.3 219.9h0M418.5 219.4h0M418.8 218.9h0M419 218.4h0M419.2 217.9h0M419.5 217.4h0M419.7 216.9h0M420 216.4h0M420.2 215.9h0M420.5 215.4h0M420.7 214.9h0M421 214.4h0M421.2 213.9h0M421.5 213.4h0M421.7 212.8h0M422 212.3h0M422.3 211.8h0M422.5 211.3h0M422.8 210.8h0M423 210.3h0M423.3 209.8h0M423.5 209.3h0M423.8 208.8h0M424 208.3h0M424.3 207.8h0M424.5 207.3h0M424.8 206.8h0M425.1 206.3h0M425.3 205.8h0M425.6 205.3h0M425.8 204.8h0M426.1 204.3h0M426.3 203.7h0M426.6 203.2h0M426.9 202.7h0M427.2 202.2h0M427.5 201.7h0M427.8 201.2h0M428.1 200.7h0M428.4 200.2h0M428.6 199.7h0M428.9 199.2h0M429.2 198.7h0M429.5 198.2h0M429.8 197.7h0M430.1 197.2h0M430.4 196.7h0M430.7 196.2h0M430.9 195.7h0M431.2 195.2h0M431.5 194.7h0M431.8 194.2h0M432.1 193.7h0M432.4 193.2h0M432.7 192.7h0M433 192.2h0M433.3 191.6h0M433.8 191.1h0M434.2 190.6h0M434.7 190.1h0M435.1 189.6h0M435.6 189.1h0M436 188.6h0M436.5 188.1h0M436.9 187.6h0M437.4 187.1h0M437.8 186.6h0M438.3 186.1h0M438.7 185.6h0M439.2 185.1h0M439.6 184.6h0M440.1 184.1h0M440.5 183.6h0M440.9 183.1h0M441.4 182.6h0M441.8 182.1h0M442.3 181.6h0M442.7 181.1h0M443.2 180.6h0M443.6 180.1h0M444.1 179.6h0M444.5 179.1h0M445 178.6h0M445.4 178.1h0M445.9 177.6h0M446.3 177.1h0M446.8 176.6h0M447.1 176h0M447.4 175.5h0M447.7 175h0M448 174.5h0M448.3 174h0M448.6 173.5h0M448.9 173h0M449.1 172.5h0M449.4 172h0M449.7 171.5h0M450 171h0M450.3 170.5h0M450.6 170h0M450.9 169.5h0M451.2 169h0M451.4 168.5h0M451.7 168h0M452 167.5h0M452.3 167h0M452.6 166.5h0M452.9 166h0M453.2 165.5h0M453.4 165h0M453.7 164.5h0M454 164h0M454.3 163.5h0M454.6 163h0M454.9 162.5h0M455.2 162h0M455.5 161.5h0M455.7 161h0M456 160.5h0M456.3 160h0M456.6 159.5h0M456.9 159h0M457.2 158.5h0M457.5 158h0M457.7 157.5h0M458 157h0M458.3 156.5h0M458.6 156h0M458.9 155.5h0M459.2 155h0M459.5 154.5h0M459.8 154h0M460 153.5h0M460.3 153h0M460.6 152.5h0M460.9 152h0M461.2 151.5h0M461.5 151h0M461.8 150.5h0M462.1 150h0M462.4 149.5h0M462.7 149h0M463 148.5h0M463.3 148h0M463.6 147.5h0M463.9 147h0M464.2 146.5h0M464.4 146h0M464.7 145.5h0M465 145h0M465.3 144.5h0M465.6 144h0M465.9 143.5h0M466.2 143h0M466.5 142.5h0M466.8 142h0M467.1 141.5h0M467.4 141h0M467.7 140.5h0M468 140h0M468.4 139.5h0M468.7 139h0M469.1 138.5h0M469.4 138h0M469.8 137.5h0M470.1 137h0M470.4 136.5h0M470.8 136h0M471.1 135.5h0M471.5 135h0M471.9 134.5h0M472.2 134h0M472.6 133.5h0M472.9 133h0M473.2 132.5h0M473.6 132h0M473.9 131.5h0M474.3 131h0M474.6 130.5h0M475 130h0M475.8 129.4h0M476.5 128.7h0M477.2 128.1h0M478 127.4h0M478.8 126.8h0M479.5 126.1h0M480.2 125.5h0M481 124.9h0M481.8 124.2h0M482.5 123.5h0M483.1 123.1h0M483.6 122.6h0M484.1 122.1h0M484.7 121.7h0M485.2 121.2h0M486.2 120.7h0M487.2 120.1h0M488.2 119.6h0M489.2 119h0M490.2 118.5h0M492.5 118.1h0M494.8 117.6h0M497 117.1h0M498.5 116.6h0M499.3 116.1h0M500 115.6h0M500.8 115.1h0M501.5 114.6h0M502.3 114.1h0M503.1 113.6h0M503.8 113.1h0M504.6 112.6h0M505.3 112.1h0M506.1 111.6h0M506.8 111.1h0M507.6 110.5h0M508.4 109.8h0M509.1 109.1h0M509.9 108.5h0M510.6 107.8h0M511.4 107.1h0M512.2 106.5h0M512.9 105.8h0M513.7 105.1h0M514.4 104.5h0M515.2 103.8h0M516 103.1h0M516.7 102.5h0M517.5 101.8h0M518.2 101.1h0M519 100.5h0M519.8 99.9h0M520.5 99.3h0M521.3 98.7h0M522 98.1h0M522.8 97.4h0M523.6 96.8h0M524.3 96.2h0M525.1 95.6h0M525.9 95h0M526.6 94.4h0M527.4 93.8h0M528.1 93.2h0M528.9 92.6h0M529.7 91.9h0M530.4 91.3h0M531.2 90.7h0M531.9 90.1h0M532.7 89.5h0M533.5 88.8h0M534.2 88.2h0M535 87.5h0M535.7 86.9h0M536.5 86.2h0M537.3 85.6h0M538 84.9h0M538.8 84.3h0M539.5 83.6h0M540.3 83h0M541.1 82.3h0M541.8 81.7h0M542.6 81h0M543.3 80.4h0M544.1 79.7h0M544.9 79h0M545.6 78.4h0M546.4 77.7h0M547.1 77.1h0M547.9 76.4h0M548.7 75.9h0M549.9 75.4h0M551.2 74.9h0M552.4 74.4h0M553.7 73.9h0M554.9 73.4h0M556.2 72.8h0M557.5 72.3h0M558.7 71.8h0M560 71.3h0M561.2 70.8h0M562.5 70.3h0M563.8 69.8h0M565.3 69.3h0M566.8 68.8h0M568.3 68.3h0M569.8 67.7h0M571.3 67.2h0M572.8 66.7h0M574.3 66.1h0M575.8 65.6h0M577.3 65.1h0M578.6 64.6h0M579.9 64.1h0M581.1 63.6h0M582.4 63.2h0M583.7 62.7h0M584.9 62.2h0M586.2 61.7h0M587.5 61.2h0M588.7 60.7h0M590 60.3h0M591.3 59.8h0M592.5 59.3h0M593.8 58.8h0M596.3 58.3h0M598.8 57.8h0M601.4 57.3h0M603.9 56.8h0M606.1 56.4h0M608.9 55.9h0M611.9 55.4h0M615 55h0M618 54.5h0M621 54.1h0M629.3 53.6h0M636.1 53.3h0" stroke="#ff7f0e" stroke-width="3.4"/>
<polyline points="391.1,251.8 402.7,238.7 409.7,226.6 415.8,212.7 425.3,197.1 433.1,185 443.5,169.3 459.1,152 464.3,141.2 473,130.7 481.7,120.3 488.6,116.9 493.8,111.7 498.5,102.4 512.8,89.5 532.7,78.2 539.6,76 548.4,69.4 555.7,66.4 570.3,62.8 580.5,60.6 590,58.5 599.6,57.4 614.2,56.2 628.8,55 643.4,54 647.8,53.4" stroke="#2ca02c" stroke-width="1.6"/>
<path d="M391.1 251.8h0M391.5 251.3h0M392 250.8h0M392.4 250.3h0M392.9 249.8h0M393.3 249.3h0M393.8 248.8h0M394.2 248.3h0M394.7 247.8h0M395.1 247.3h0M395.6 246.8h0M396 246.3h0M396.5 245.8h0M396.9 245.2h0M397.3 244.7h0M397.8 244.2h0M398.2 243.7h0M398.7 243.2h0M399.1 242.7h0M399.6 242.2h0M400 241.7h0M400.5 241.2h0M400.9 240.7h0M401.4 240.2h0M401.8 239.7h0M402.3 239.2h0M402.7 238.7h0M403 238.2h0M403.3 237.7h0M403.6 237.2h0M403.9 236.7h0M404.2 236.2h0M404.4 235.7h0M404.7 235.2h0M405 234.7h0M405.3 234.2h0M405.6 233.7h0M405.9 233.2h0M406.2 232.6h0M406.5 232.1h0M406.8 231.6h0M407.1 231.1h0M407.4 230.6h0M407.7 230.1h0M407.9 229.6h0M408.2 229.1h0M408.5 228.6h0M408.8 228.1h0M409.1 227.6h0M409.4 227.1h0M409.7 226.6h0M409.9 226.1h0M410.1 225.6h0M410.4 225.1h0M410.6 224.6h0M410.8 224.1h0M411 223.6h0M411.3 223.1h0M411.5 222.6h0M411.7 222.1h0M411.9 221.5h0M412.1 221h0M412.4 220.5h0M412.6 220h0M412.8 219.5h0M413 219h0M413.2 218.5h0M413.5 218h0M413.7 217.5h0M413.9 217h0M414.1 216.5h0M414.4 216h0M414.6 215.5h0M414.8 215h0M415 214.5h0M415.2 214h0M415.5 213.5h0M415.7 213h0M416 212.4h0M416.3 211.9h0M416.6 211.4h0M416.9 210.9h0M417.2 210.4h0M417.5 209.9h0M417.8 209.4h0M418.1 208.9h0M418.4 208.4h0M418.7 207.9h0M419 207.4h0M419.3 206.9h0M419.6 206.4h0M419.9 205.9h0M420.2 205.4h0M420.6 204.9h0M420.9 204.4h0M421.2 203.9h0M421.5 203.4h0M421.8 202.9h0M422.1 202.4h0M422.4 201.9h0M422.7 201.4h0M423 200.9h0M423.3 200.4h0M423.6 199.9h0M423.9 199.4h0M424.2 198.9h0M424.5 198.4h0M424.8 197.9h0M425.1 197.4h0M425.5 196.8h0M425.8 196.3h0M426.1 195.8h0M426.4 195.3h0M426.8 194.8h0M427.1 194.3h0M427.4 193.8h0M427.7 193.3h0M428.1 192.8h0M428.4 192.3h0M428.7 191.8h0M429 191.3h0M429.4 190.8h0M429.7 190.3h0M430 189.8h0M430.3 189.3h0M430.7 188.8h0M431 188.3h0M431.3 187.8h0M431.6 187.3h0M432 186.8h0M432.3 186.3h0M432.6 185.8h0M432.9 185.3h0M433.3 184.7h0M433.6 184.2h0M433.9 183.7h0M434.3 183.2h0M434.6 182.7h0M434.9 182.2h0M435.3 181.7h0M435.6 181.2h0M436 180.7h0M436.3 180.2h0M436.6 179.7h0M437 179.2h0M437.3 178.7h0M437.6 178.2h0M438 177.7h0M438.3 177.2h0M438.6 176.6h0M439 176.1h0M439.3 175.6h0M439.6 175.1h0M440 174.6h0M440.3 174.1h0M440.6 173.6h0M441 173.1h0M441.3 172.6h0M441.7 172.1h0M442 171.6h0M442.3 171.1h0M442.7 170.6h0M443 170.1h0M443.3 169.6h0M443.7 169h0M444.2 168.5h0M444.6 168h0M445.1 167.5h0M445.5 167h0M446 166.5h0M446.4 166h0M446.9 165.5h0M447.3 165h0M447.8 164.5h0M448.2 164h0M448.7 163.5h0M449.2 163h0M449.6 162.5h0M450.1 162h0M450.5 161.5h0M451 161h0M451.4 160.5h0M451.9 160h0M452.3 159.5h0M452.8 159h0M453.2 158.5h0M453.7 158h0M454.1 157.5h0M454.6 157h0M455 156.5h0M455.5 156h0M455.9 155.5h0M456.4 155h0M456.8 154.5h0M457.3 154h0M457.7 153.5h0M458.2 153h0M458.6 152.5h0M459.1 152h0M459.3 151.5h0M459.6 151h0M459.8 150.5h0M460.1 150h0M460.3 149.5h0M460.6 149h0M460.8 148.5h0M461 148h0M461.3 147.5h0M461.5 147h0M461.8 146.5h0M462 146h0M462.2 145.5h0M462.5 145h0M462.7 144.5h0M463 144h0M463.2 143.5h0M463.5 143h0M463.7 142.5h0M463.9 142h0M464.2 141.5h0M464.5 140.9h0M464.9 140.4h0M465.3 139.9h0M465.8 139.4h0M466.2 138.9h0M466.6 138.4h0M467 137.9h0M467.4 137.4h0M467.8 136.9h0M468.2 136.4h0M468.6 135.9h0M469.1 135.4h0M469.5 134.9h0M469.9 134.4h0M470.3 133.9h0M470.7 133.4h0M471.1 132.9h0M471.6 132.4h0M472 131.9h0M472.4 131.4h0M472.8 130.9h0M473.2 130.4h0M473.6 129.9h0M474.1 129.4h0M474.5 128.9h0M474.9 128.4h0M475.3 127.9h0M475.8 127.4h0M476.2 126.9h0M476.6 126.4h0M477 125.9h0M477.5 125.4h0M477.9 124.9h0M478.3 124.4h0M478.7 123.9h0M479.2 123.3h0M479.6 122.8h0M480 122.3h0M480.4 121.8h0M480.9 121.3h0M481.3 120.8h0M481.7 120.3h0M482.7 119.8h0M483.7 119.3h0M484.8 118.8h0M485.8 118.3h0M486.8 117.8h0M487.8 117.3h0M488.9 116.6h0M489.4 116.1h0M489.9 115.6h0M490.4 115.1h0M490.9 114.6h0M491.5 114h0M492 113.5h0M492.5 113h0M493 112.5h0M493.5 112h0M493.9 111.4h0M494.2 110.9h0M494.4 110.4h0M494.7 109.9h0M494.9 109.4h0M495.2 108.9h0M495.5 108.4h0M495.7 107.9h0M496 107.4h0M496.2 106.9h0M496.5 106.4h0M496.7 105.9h0M497 105.4h0M497.2 104.9h0M497.5 104.4h0M497.7 103.9h0M498 103.4h0M498.2 102.9h0M498.5 102.4h0M499 101.9h0M499.5 101.5h0M500 101h0M500.5 100.6h0M501 100.1h0M501.5 99.7h0M502 99.2h0M502.5 98.8h0M503 98.3h0M503.5 97.9h0M504 97.4h0M504.5 97h0M505 96.5h0M505.5 96.1h0M506 95.6h0M506.5 95.2h0M507 94.7h0M507.5 94.3h0M508 93.8h0M508.5 93.3h0M509 92.9h0M509.5 92.4h0M510 92h0M510.5 91.5h0M511 91.1h0M511.5 90.6h0M512 90.2h0M512.5 89.7h0M513.3 89.2h0M514.3 88.6h0M515.3 88.1h0M516.3 87.5h0M517.3 86.9h0M518.3 86.4h0M519.3 85.8h0M520.4 85.2h0M521.4 84.6h0M522.4 84.1h0M523.4 83.5h0M524.4 82.9h0M525.4 82.3h0M526.4 81.8h0M527.4 81.2h0M528.4 80.6h0M529.4 80.1h0M530.4 79.5h0M531.4 78.9h0M532.4 78.3h0M533.7 77.9h0M535.3 77.4h0M536.8 76.9h0M538.3 76.4h0M539.9 75.8h0M540.6 75.2h0M541.4 74.7h0M542.1 74.1h0M542.9 73.5h0M543.6 73h0M544.4 72.4h0M545.1 71.9h0M545.9 71.3h0M546.6 70.7h0M547.4 70.2h0M548.1 69.6h0M549.2 69.1h0M550.4 68.6h0M551.7 68.1h0M552.9 67.5h0M554.2 67h0M555.4 66.5h0M557.2 66h0M559.2 65.5h0M561.2 65h0M563.3 64.5h0M565.3 64h0M567.3 63.5h0M569.3 63h0M571.3 62.6h0M573.6 62.1h0M575.9 61.6h0M578.2 61.1h0M580.5 60.6h0M582.8 60.1h0M585 59.6h0M587.2 59.1h0M589.5 58.6h0M593 58.2h0M597.1 57.7h0M601.6 57.2h0M607.2 56.8h0M612.7 56.3h0M618.2 55.9h0M623.8 55.4h0M629.6 54.9h0M636.4 54.5h0M643.1 54h0M646.8 53.5h0M647.8 53.4h0" stroke="#2ca02c" stroke-width="3.4"/>
<polyline points="391.1,251.8 396.7,246.6 405.3,238.7 414,226.6 419.2,212.7 422.7,202.3 427,183.2 434,165.9 441.8,152 443.5,146.4 452.2,132.5 457.4,125.5 464.3,115.1 473,108.2 478.2,101.3 485.2,96 492.1,90.8 498,85.6 507.1,79.6 516.3,76 525,73 538.2,67.9 551.3,64.2 558.6,60.6 571.8,58.8 585,56.5 599.6,55.9 614.2,54.8 628.8,54 634.6,53.4 682.4,53.4" stroke="#d62728" stroke-width="1.6"/>
<path d="M391.1 251.8h0M391.6 251.3h0M392.1 250.9h0M392.6 250.4h0M393.1 249.9h0M393.6 249.4h0M394.2 249h0M394.7 248.5h0M395.2 248h0M395.7 247.5h0M396.2 247.1h0M396.7 246.6h0M397.2 246.1h0M397.7 245.7h0M398.2 245.2h0M398.7 244.7h0M399.2 244.3h0M399.7 243.8h0M400.2 243.3h0M400.7 242.9h0M401.3 242.4h0M401.8 242h0M402.3 241.5h0M402.8 241h0M403.3 240.6h0M403.8 240.1h0M404.3 239.6h0M404.8 239.2h0M405.3 238.7h0M405.7 238.2h0M406 237.7h0M406.4 237.2h0M406.8 236.7h0M407.1 236.2h0M407.5 235.7h0M407.8 235.2h0M408.2 234.7h0M408.6 234.2h0M408.9 233.7h0M409.3 233.2h0M409.6 232.6h0M410 232.1h0M410.4 231.6h0M410.7 231.1h0M411.1 230.6h0M411.5 230.1h0M411.8 229.6h0M412.2 229.1h0M412.6 228.6h0M412.9 228.1h0M413.3 227.6h0M413.6 227.1h0M414 226.6h0M414.2 226.1h0M414.4 225.6h0M414.6 225.1h0M414.8 224.6h0M414.9 224.1h0M415.1 223.6h0M415.3 223.1h0M415.5 222.6h0M415.7 222.1h0M415.9 221.5h0M416.1 221h0M416.3 220.5h0M416.5 220h0M416.6 219.5h0M416.8 219h0M417 218.5h0M417.2 218h0M417.4 217.5h0M417.6 217h0M417.8 216.5h0M418 216h0M418.2 215.5h0M418.3 215h0M418.5 214.5h0M418.7 214h0M418.9 213.5h0M419.1 213h0M419.3 212.4h0M419.5 211.9h0M419.6 211.4h0M419.8 210.9h0M420 210.4h0M420.1 209.9h0M420.3 209.4h0M420.5 208.9h0M420.7 208.4h0M420.8 207.9h0M421 207.4h0M421.2 206.9h0M421.3 206.4h0M421.5 205.9h0M421.7 205.3h0M421.8 204.8h0M422 204.3h0M422.2 203.8h0M422.4 203.3h0M422.5 202.8h0M422.7 202.3h0M422.8 201.8h0M422.9 201.3h0M423 200.8h0M423.2 200.3h0M423.3 199.8h0M423.4 199.3h0M423.5 198.8h0M423.6 198.3h0M423.7 197.8h0M423.8 197.3h0M423.9 196.8h0M424.1 196.3h0M424.2 195.8h0M424.3 195.3h0M424.4 194.8h0M424.5 194.3h0M424.6 193.8h0M424.7 193.3h0M424.9 192.8h0M425 192.2h0M425.1 191.7h0M425.2 191.2h0M425.3 190.7h0M425.4 190.2h0M425.5 189.7h0M425.6 189.2h0M425.8 188.7h0M425.9 188.2h0M426 187.7h0M426.1 187.2h0M426.2 186.7h0M426.3 186.2h0M426.4 185.7h0M426.5 185.2h0M426.7 184.7h0M426.8 184.2h0M426.9 183.7h0M427 183.2h0M427.2 182.7h0M427.4 182.2h0M427.6 181.7h0M427.8 181.2h0M428 180.7h0M428.2 180.2h0M428.4 179.7h0M428.6 179.2h0M428.8 178.7h0M429 178.2h0M429.2 177.7h0M429.4 177.2h0M429.6 176.7h0M429.8 176.2h0M430 175.7h0M430.2 175.2h0M430.4 174.7h0M430.7 174.2h0M430.9 173.7h0M431.1 173.2h0M431.3 172.7h0M431.5 172.2h0M431.7 171.7h0M431.9 171.2h0M432.1 170.7h0M432.3 170.2h0M432.5 169.7h0M432.7 169.2h0M432.9 168.7h0M433.1 168.2h0M433.3 167.7h0M433.5 167.2h0M433.7 166.7h0M433.9 166.2h0M434.1 165.6h0M434.4 165.1h0M434.7 164.6h0M435 164.1h0M435.3 163.6h0M435.6 163.1h0M435.8 162.6h0M436.1 162.1h0M436.4 161.6h0M436.7 161.1h0M437 160.6h0M437.3 160.1h0M437.5 159.6h0M437.8 159.1h0M438.1 158.6h0M438.4 158.1h0M438.7 157.6h0M439 157.1h0M439.2 156.5h0M439.5 156h0M439.8 155.5h0M440.1 155h0M440.4 154.5h0M440.7 154h0M440.9 153.5h0M441.2 153h0M441.5 152.5h0M441.8 152h0M442 151.5h0M442.1 151h0M442.3 150.5h0M442.4 150h0M442.6 149.5h0M442.7 148.9h0M442.9 148.4h0M443 147.9h0M443.2 147.4h0M443.3 146.9h0M443.5 146.4h0M443.8 145.9h0M444.1 145.4h0M444.4 144.9h0M444.8 144.4h0M445.1 143.9h0M445.4 143.4h0M445.7 142.9h0M446 142.4h0M446.3 141.9h0M446.7 141.3h0M447 140.8h0M447.3 140.3h0M447.6 139.8h0M447.9 139.3h0M448.2 138.8h0M448.6 138.3h0M448.9 137.8h0M449.2 137.3h0M449.5 136.8h0M449.8 136.3h0M450.1 135.8h0M450.5 135.3h0M450.8 134.8h0M451.1 134.3h0M451.4 133.8h0M451.7 133.3h0M452 132.8h0M452.4 132.2h0M452.8 131.8h0M453.1 131.2h0M453.5 130.8h0M453.9 130.2h0M454.2 129.8h0M454.6 129.2h0M455 128.8h0M455.4 128.2h0M455.7 127.8h0M456.1 127.2h0M456.5 126.8h0M456.8 126.2h0M457.2 125.8h0M457.6 125.2h0M457.9 124.7h0M458.2 124.2h0M458.6 123.7h0M458.9 123.2h0M459.3 122.7h0M459.6 122.2h0M459.9 121.7h0M460.3 121.2h0M460.6 120.7h0M460.9 120.2h0M461.3 119.7h0M461.6 119.2h0M461.9 118.7h0M462.3 118.1h0M462.6 117.6h0M463 117.1h0M463.3 116.6h0M463.6 116.1h0M464 115.6h0M464.3 115.1h0M465.1 114.5h0M465.8 113.9h0M466.6 113.3h0M467.4 112.7h0M468.1 112.1h0M468.9 111.4h0M469.7 110.8h0M470.4 110.2h0M471.2 109.6h0M472 109h0M472.7 108.4h0M473.2 107.9h0M473.6 107.4h0M474 106.9h0M474.3 106.4h0M474.7 105.9h0M475.1 105.4h0M475.5 104.9h0M475.9 104.4h0M476.3 103.9h0M476.7 103.3h0M477 102.8h0M477.4 102.3h0M477.8 101.8h0M478.2 101.3h0M478.9 100.7h0M479.7 100.2h0M480.4 99.6h0M481.2 99h0M481.9 98.5h0M482.7 97.9h0M483.4 97.3h0M484.2 96.8h0M484.9 96.2h0M485.7 95.6h0M486.5 95h0M487.2 94.5h0M488 93.9h0M488.8 93.3h0M489.5 92.7h0M490.3 92.1h0M491.1 91.6h0M491.8 91h0M492.6 90.3h0M493.1 89.9h0M493.6 89.4h0M494.2 89h0M494.7 88.5h0M495.2 88.1h0M495.7 87.6h0M496.2 87.2h0M496.7 86.7h0M497.2 86.3h0M497.7 85.8h0M498.5 85.3h0M499.3 84.8h0M500 84.3h0M500.8 83.8h0M501.5 83.3h0M502.3 82.8h0M503.1 82.3h0M503.8 81.8h0M504.6 81.3h0M505.3 80.8h0M506.1 80.3h0M506.8 79.8h0M507.9 79.3h0M509.1 78.8h0M510.4 78.3h0M511.7 77.8h0M513 77.3h0M514.3 76.8h0M515.5 76.3h0M516.8 75.8h0M518.3 75.3h0M519.9 74.8h0M521.4 74.2h0M523 73.7h0M524.5 73.2h0M525.8 72.7h0M527 72.2h0M528.3 71.7h0M529.6 71.2h0M530.8 70.7h0M532.1 70.3h0M533.4 69.8h0M534.6 69.3h0M535.9 68.8h0M537.2 68.3h0M538.5 67.8h0M540.2 67.3h0M542 66.8h0M543.7 66.3h0M545.5 65.8h0M547.3 65.3h0M549 64.8h0M550.8 64.3h0M552.1 63.8h0M553.1 63.3h0M554.1 62.8h0M555.1 62.3h0M556.1 61.8h0M557.1 61.3h0M558.1 60.8h0M560.1 60.4h0M563.4 59.9h0M566.7 59.5h0M570 59h0M573.1 58.6h0M575.9 58.1h0M578.7 57.6h0M581.4 57.1h0M584.2 56.6h0M592.8 56.2h0M601.9 55.7h0M607.9 55.3h0M613.9 54.8h0M622.3 54.4h0M629.8 53.9h0M634.3 53.4h0M682.4 53.4h0M669.7 53.4h0" stroke="#d62728" stroke-width="3.4"/>
<polyline points="391.1,251.8 405.3,250 422.7,241.3 440,230.9 457.4,214.5 474.7,198.8 481.7,188.4 490,179.8 498,170.2 501.4,168.4 512.8,149.9 527,135.1 546.9,118 566.9,103.8 589.6,93.8 618.1,82.4 646.6,73.9 672.2,70.5 682.4,66.5" stroke="#9467bd" stroke-width="1.6"/>
<path d="M391.1 251.8h0M394.9 251.3h0M398.7 250.8h0M402.5 250.4h0M405.6 249.9h0M406.6 249.4h0M407.6 248.9h0M408.6 248.4h0M409.6 247.9h0M410.6 247.4h0M411.6 246.8h0M412.6 246.3h0M413.6 245.8h0M414.6 245.3h0M415.6 244.8h0M416.6 244.3h0M417.7 243.8h0M418.7 243.3h0M419.7 242.8h0M420.7 242.3h0M421.7 241.8h0M422.7 241.3h0M423.5 240.8h0M424.2 240.4h0M425 239.9h0M425.7 239.5h0M426.5 239h0M427.2 238.6h0M428 238.1h0M428.7 237.7h0M429.5 237.2h0M430.2 236.8h0M431 236.3h0M431.7 235.9h0M432.5 235.4h0M433.2 235h0M434 234.5h0M434.7 234.1h0M435.5 233.6h0M436.2 233.2h0M437 232.7h0M437.7 232.3h0M438.5 231.8h0M439.2 231.4h0M440 230.9h0M440.5 230.4h0M441 229.9h0M441.5 229.5h0M442 229h0M442.5 228.5h0M443 228h0M443.5 227.6h0M444 227.1h0M444.5 226.6h0M445 226.1h0M445.5 225.7h0M446.1 225.2h0M446.6 224.7h0M447.1 224.2h0M447.6 223.8h0M448.1 223.3h0M448.6 222.8h0M449.1 222.3h0M449.6 221.9h0M450.1 221.4h0M450.6 220.9h0M451.1 220.4h0M451.6 220h0M452.1 219.5h0M452.6 219h0M453.1 218.5h0M453.6 218.1h0M454.1 217.6h0M454.6 217.1h0M455.1 216.6h0M455.6 216.2h0M456.1 215.7h0M456.6 215.2h0M457.1 214.7h0M457.7 214.3h0M458.2 213.8h0M458.7 213.4h0M459.2 212.9h0M459.7 212.5h0M460.2 212h0M460.7 211.5h0M461.2 211.1h0M461.7 210.6h0M462.2 210.2h0M462.7 209.7h0M463.2 209.3h0M463.7 208.8h0M464.2 208.4h0M464.7 207.9h0M465.2 207.4h0M465.7 207h0M466.2 206.5h0M466.7 206.1h0M467.2 205.6h0M467.7 205.2h0M468.2 204.7h0M468.7 204.3h0M469.2 203.8h0M469.7 203.4h0M470.2 202.9h0M470.7 202.4h0M471.2 202h0M471.7 201.5h0M472.2 201.1h0M472.7 200.6h0M473.2 200.2h0M473.7 199.7h0M474.2 199.3h0M474.7 198.8h0M475 198.3h0M475.4 197.8h0M475.7 197.3h0M476.1 196.8h0M476.4 196.3h0M476.7 195.8h0M477.1 195.2h0M477.4 194.7h0M477.8 194.2h0M478.1 193.7h0M478.5 193.2h0M478.8 192.7h0M479.1 192.2h0M479.5 191.7h0M479.8 191.2h0M480.2 190.7h0M480.5 190.2h0M480.8 189.7h0M481.2 189.2h0M481.5 188.7h0M481.9 188.1h0M482.4 187.6h0M482.9 187.1h0M483.4 186.6h0M483.9 186.1h0M484.4 185.6h0M484.9 185.1h0M485.4 184.6h0M485.9 184.1h0M486.3 183.6h0M486.8 183.1h0M487.3 182.6h0M487.8 182.1h0M488.3 181.6h0M488.8 181.1h0M489.3 180.6h0M489.8 180.1h0M490.2 179.5h0M490.6 179h0M491.1 178.5h0M491.5 178h0M491.9 177.5h0M492.3 177h0M492.7 176.5h0M493.2 176h0M493.6 175.5h0M494 175h0M494.4 174.5h0M494.8 174h0M495.3 173.5h0M495.7 173h0M496.1 172.5h0M496.5 172h0M496.9 171.5h0M497.4 171h0M497.8 170.5h0M498.5 169.9h0M499.6 169.4h0M500.6 168.8h0M501.6 168.2h0M501.9 167.7h0M502.2 167.2h0M502.5 166.7h0M502.8 166.2h0M503.1 165.7h0M503.4 165.2h0M503.7 164.7h0M504 164.2h0M504.3 163.7h0M504.6 163.2h0M504.9 162.7h0M505.3 162.2h0M505.6 161.7h0M505.9 161.2h0M506.2 160.7h0M506.5 160.2h0M506.8 159.7h0M507.1 159.2h0M507.4 158.7h0M507.7 158.2h0M508 157.7h0M508.3 157.2h0M508.6 156.7h0M508.9 156.2h0M509.3 155.7h0M509.6 155.2h0M509.9 154.7h0M510.2 154.2h0M510.5 153.7h0M510.8 153.2h0M511.1 152.7h0M511.4 152.2h0M511.7 151.7h0M512 151.2h0M512.3 150.7h0M512.6 150.2h0M513 149.6h0M513.5 149.1h0M514 148.6h0M514.5 148.1h0M515 147.6h0M515.4 147.1h0M515.9 146.6h0M516.4 146.1h0M516.9 145.6h0M517.4 145.1h0M517.9 144.6h0M518.3 144.1h0M518.8 143.6h0M519.3 143.1h0M519.8 142.6h0M520.3 142.1h0M520.7 141.6h0M521.2 141.1h0M521.7 140.6h0M522.2 140.1h0M522.7 139.6h0M523.1 139.1h0M523.6 138.6h0M524.1 138.1h0M524.6 137.6h0M525.1 137.1h0M525.6 136.6h0M526 136.1h0M526.5 135.6h0M527 135.1h0M527.8 134.5h0M528.5 133.8h0M529.3 133.2h0M530 132.5h0M530.8 131.9h0M531.5 131.2h0M532.3 130.6h0M533 129.9h0M533.8 129.3h0M534.6 128.6h0M535.3 128h0M536.1 127.3h0M536.8 126.7h0M537.6 126h0M538.3 125.4h0M539.1 124.7h0M539.8 124.1h0M540.6 123.4h0M541.4 122.8h0M542.1 122.1h0M542.9 121.5h0M543.6 120.8h0M544.4 120.2h0M545.1 119.5h0M545.9 118.9h0M546.6 118.2h0M547.4 117.6h0M548.1 117.1h0M548.9 116.6h0M549.6 116h0M550.4 115.5h0M551.1 115h0M551.9 114.5h0M552.6 113.9h0M553.4 113.4h0M554.1 112.9h0M554.9 112.3h0M555.6 111.8h0M556.4 111.3h0M557.1 110.7h0M557.9 110.2h0M558.6 109.7h0M559.4 109.1h0M560.1 108.6h0M560.9 108.1h0M561.6 107.5h0M562.4 107h0M563.1 106.5h0M563.9 105.9h0M564.6 105.4h0M565.4 104.9h0M566.1 104.3h0M566.9 103.8h0M568.2 103.2h0M569.4 102.7h0M570.7 102.1h0M571.9 101.6h0M573.2 101h0M574.5 100.5h0M575.7 99.9h0M577 99.4h0M578.2 98.8h0M579.5 98.2h0M580.8 97.7h0M582 97.1h0M583.3 96.6h0M584.6 96h0M585.8 95.5h0M587.1 94.9h0M588.3 94.4h0M589.6 93.8h0M590.9 93.3h0M592.1 92.8h0M593.4 92.3h0M594.6 91.8h0M595.9 91.3h0M597.1 90.8h0M598.4 90.3h0M599.6 89.8h0M600.9 89.3h0M602.1 88.8h0M603.4 88.3h0M604.6 87.8h0M605.9 87.3h0M607.1 86.8h0M608.4 86.3h0M609.6 85.8h0M610.9 85.3h0M612.1 84.8h0M613.4 84.3h0M614.6 83.8h0M615.9 83.3h0M617.1 82.8h0M618.4 82.3h0M620.1 81.8h0M621.9 81.3h0M623.6 80.8h0M625.4 80.2h0M627.1 79.7h0M628.9 79.2h0M630.6 78.7h0M632.4 78.2h0M634.1 77.6h0M635.9 77.1h0M637.6 76.6h0M639.4 76.1h0M641.1 75.5h0M642.9 75h0M644.6 74.5h0M646.4 74h0M649.6 73.5h0M653.1 73h0M656.6 72.6h0M660.2 72.1h0M663.7 71.6h0M667.2 71.2h0M670.7 70.7h0M673 70.2h0M674.2 69.7h0M675.5 69.2h0M676.8 68.7h0M678.1 68.2h0M679.3 67.7h0M680.6 67.2h0M681.9 66.7h0M682.4 66.5h0" stroke="#9467bd" stroke-width="3.4"/>
</g>
<path d="M390.2,262.0 L390.2,43.6 L682.4,43.6 L682.4,262.0" fill="none" stroke="#707070" stroke-width="1.5"/>
<line x1="389.5" x2="683.1" y1="262.0" y2="262.0" stroke="#a5a5a5" stroke-width="2"/>
<rect x="524.7" y="146.5" width="150.9" height="107.3" rx="3" fill="#fff" fill-opacity="0.8" stroke="#dadada" stroke-width="1"/>
<line x1="530.4" x2="559.7" y1="157" y2="157" stroke="#1f77b4" stroke-width="1.6" stroke-opacity="0.8"/>
<circle cx="545" cy="157" r="1.7" fill="#1f77b4"/>
<text x="570.6" y="165.2" font-family="Liberation Sans, sans-serif" font-size="17" fill="#262626">Γ:</text>
<text x="588.8" y="162.3" font-family="Liberation Sans, sans-serif" font-size="15.3" fill="#262626" textLength="81.9" lengthAdjust="spacingAndGlyphs">[0.66-0.70]</text>
<line x1="530.4" x2="559.7" y1="178.4" y2="178.4" stroke="#ff7f0e" stroke-width="1.6" stroke-opacity="0.8"/>
<circle cx="545" cy="178.4" r="1.7" fill="#ff7f0e"/>
<text x="570.6" y="186.6" font-family="Liberation Sans, sans-serif" font-size="17" fill="#262626">Γ:</text>
<text x="588.8" y="183.7" font-family="Liberation Sans, sans-serif" font-size="15.3" fill="#262626" textLength="81.9" lengthAdjust="spacingAndGlyphs">[0.61-0.63]</text>
<line x1="530.4" x2="559.7" y1="198.9" y2="198.9" stroke="#2ca02c" stroke-width="1.6" stroke-opacity="0.8"/>
<circle cx="545" cy="198.9" r="1.7" fill="#2ca02c"/>
<text x="570.6" y="207.1" font-family="Liberation Sans, sans-serif" font-size="17" fill="#262626">Γ:</text>
<text x="588.8" y="204.2" font-family="Liberation Sans, sans-serif" font-size="15.3" fill="#262626" textLength="81.9" lengthAdjust="spacingAndGlyphs">[0.56-0.58]</text>
<line x1="530.4" x2="559.7" y1="220" y2="220" stroke="#d62728" stroke-width="1.6" stroke-opacity="0.8"/>
<circle cx="545" cy="220" r="1.7" fill="#d62728"/>
<text x="570.6" y="228.2" font-family="Liberation Sans, sans-serif" font-size="17" fill="#262626">Γ:</text>
<text x="588.8" y="225.3" font-family="Liberation Sans, sans-serif" font-size="15.3" fill="#262626" textLength="81.9" lengthAdjust="spacingAndGlyphs">[0.52-0.54]</text>
<line x1="530.4" x2="559.7" y1="241" y2="241" stroke="#9467bd" stroke-width="1.6" stroke-opacity="0.8"/>
<circle cx="545" cy="241" r="1.7" fill="#9467bd"/>
<text x="570.6" y="249.2" font-family="Liberation Sans, sans-serif" font-size="17" fill="#262626">Γ:</text>
<text x="588.8" y="246.3" font-family="Liberation Sans, sans-serif" font-size="15.3" fill="#262626" textLength="81.9" lengthAdjust="spacingAndGlyphs">[0.46-0.50]</text>
<text x="399.1" y="283.3" font-family="Liberation Serif, serif" font-size="23.5" text-anchor="middle" fill="#111">0</text>
<text x="491.3" y="283.3" font-family="Liberation Serif, serif" font-size="23.5" text-anchor="middle" fill="#111">0.2</text>
<text x="588.4" y="283.3" font-family="Liberation Serif, serif" font-size="23.5" text-anchor="middle" fill="#111">0.4</text>
<text x="658.3" y="283.3" font-family="Liberation Serif, serif" font-size="23.5" text-anchor="middle" fill="#111">0.6</text>
<text x="434.5" y="310.0" font-family="Liberation Serif, serif" font-size="24.8" fill="#111" textLength="211.6" lengthAdjust="spacingAndGlyphs">Positioning Error (m)</text>
<text x="387.3" y="21.4" font-family="Liberation Sans, sans-serif" font-weight="bold" font-size="27.5" fill="#000" textLength="36" lengthAdjust="spacingAndGlyphs">(b)</text>
<clipPath id="clipC"><rect x="60.7" y="356.9" width="298" height="224"/></clipPath>
<line x1="60.7" x2="358.7" y1="572.0" y2="572.0" stroke="#d9d9d9" stroke-width="1.4"/>
<line x1="60.7" x2="358.7" y1="531.4" y2="531.4" stroke="#d9d9d9" stroke-width="1.4"/>
<line x1="60.7" x2="358.7" y1="490.7" y2="490.7" stroke="#d9d9d9" stroke-width="1.4"/>
<line x1="60.7" x2="358.7" y1="450.1" y2="450.1" stroke="#d9d9d9" stroke-width="1.4"/>
<line x1="60.7" x2="358.7" y1="409.4" y2="409.4" stroke="#d9d9d9" stroke-width="1.4"/>
<line x1="60.7" x2="358.7" y1="368.8" y2="368.8" stroke="#d9d9d9" stroke-width="1.4"/>
<line x1="120.8" x2="120.8" y1="358.9" y2="580.9" stroke="#d9d9d9" stroke-width="1.4"/>
<line x1="182.2" x2="182.2" y1="358.9" y2="580.9" stroke="#d9d9d9" stroke-width="1.4"/>
<line x1="242.8" x2="242.8" y1="358.9" y2="580.9" stroke="#d9d9d9" stroke-width="1.4"/>
<line x1="303.6" x2="303.6" y1="358.9" y2="580.9" stroke="#d9d9d9" stroke-width="1.4"/>
<line x1="57.5" x2="60.7" y1="572.0" y2="572.0" stroke="#777" stroke-width="1.2"/>
<line x1="57.5" x2="60.7" y1="531.4" y2="531.4" stroke="#777" stroke-width="1.2"/>
<line x1="57.5" x2="60.7" y1="490.7" y2="490.7" stroke="#777" stroke-width="1.2"/>
<line x1="57.5" x2="60.7" y1="450.1" y2="450.1" stroke="#777" stroke-width="1.2"/>
<line x1="57.5" x2="60.7" y1="409.4" y2="409.4" stroke="#777" stroke-width="1.2"/>
<line x1="57.5" x2="60.7" y1="368.8" y2="368.8" stroke="#777" stroke-width="1.2"/>
<line x1="120.8" x2="120.8" y1="580.9" y2="584.1" stroke="#777" stroke-width="1.2"/>
<line x1="182.2" x2="182.2" y1="580.9" y2="584.1" stroke="#777" stroke-width="1.2"/>
<line x1="242.8" x2="242.8" y1="580.9" y2="584.1" stroke="#777" stroke-width="1.2"/>
<line x1="303.6" x2="303.6" y1="580.9" y2="584.1" stroke="#777" stroke-width="1.2"/>
<g clip-path="url(#clipC)" fill="none" stroke-linejoin="round" stroke-linecap="round">
<polyline points="63.3,569.8 67.7,568 70.4,560.1 73,546 76.6,531.8 80.1,519.5 82.7,505.3 85.4,486.8 89.8,482.4 94.2,477.1 97.8,470 100,456.4 107.2,453.3 110.3,450.2 112.3,442 115.4,423.6 123.6,421.5 129.8,418.4 131.4,415.4 132.8,404.1 142.1,403.5 148.2,399 151.3,392.8 153.3,384.6 162.6,382.6 171.8,380.5 173.9,373.3 188,372.3 197.8,371.2 225.9,370 279.5,368.7" stroke="#1f77b4" stroke-width="1.4"/>
<path d="M63.3 569.8h0M65.4 569h0M67.4 568.1h0M68 567.2h0M68.3 566.2h0M68.7 565.2h0M69 564.2h0M69.4 563.2h0M69.7 562.1h0M70.1 561.1h0M70.4 560.1h0M70.6 559.1h0M70.8 558.1h0M71 557.1h0M71.1 556.1h0M71.3 555.1h0M71.5 554.1h0M71.7 553h0M71.9 552h0M72.1 551h0M72.3 550h0M72.4 549h0M72.6 548h0M72.8 547h0M73 546h0M73.3 545h0M73.5 544h0M73.8 543h0M74 541.9h0M74.3 540.9h0M74.5 539.9h0M74.8 538.9h0M75.1 537.9h0M75.3 536.9h0M75.6 535.9h0M75.8 534.8h0M76.1 533.8h0M76.3 532.8h0M76.6 531.8h0M76.9 530.8h0M77.2 529.8h0M77.5 528.8h0M77.7 527.8h0M78 526.8h0M78.3 525.8h0M78.6 524.8h0M78.9 523.8h0M79.2 522.8h0M79.5 521.8h0M79.7 520.8h0M80 519.8h0M80.2 518.7h0M80.4 517.7h0M80.6 516.7h0M80.8 515.7h0M81 514.7h0M81.2 513.7h0M81.4 512.7h0M81.5 511.6h0M81.7 510.6h0M81.9 509.6h0M82.1 508.6h0M82.3 507.6h0M82.5 506.6h0M82.7 505.6h0M82.8 504.6h0M83 503.6h0M83.1 502.6h0M83.2 501.6h0M83.4 500.6h0M83.5 499.6h0M83.7 498.6h0M83.8 497.6h0M84 496.6h0M84.1 495.6h0M84.3 494.6h0M84.4 493.6h0M84.6 492.6h0M84.7 491.6h0M84.9 490.6h0M85 489.6h0M85.1 488.6h0M85.3 487.6h0M85.7 486.5h0M86.7 485.5h0M87.7 484.5h0M88.8 483.4h0M89.8 482.4h0M90.6 481.4h0M91.5 480.4h0M92.3 479.4h0M93.2 478.4h0M94 477.4h0M94.6 476.3h0M95.1 475.3h0M95.6 474.3h0M96.1 473.3h0M96.6 472.3h0M97.2 471.3h0M97.7 470.3h0M97.9 469.2h0M98.1 468.2h0M98.2 467.2h0M98.4 466.2h0M98.6 465.2h0M98.7 464.2h0M98.9 463.2h0M99.1 462.2h0M99.2 461.2h0M99.4 460.2h0M99.6 459.2h0M99.7 458.2h0M99.9 457.2h0M100.3 456.3h0M102.3 455.4h0M104.4 454.5h0M106.4 453.6h0M107.7 452.8h0M108.8 451.8h0M109.8 450.7h0M110.4 449.7h0M110.7 448.7h0M110.9 447.6h0M111.2 446.6h0M111.4 445.6h0M111.7 444.6h0M111.9 443.5h0M112.2 442.5h0M112.4 441.5h0M112.6 440.5h0M112.7 439.5h0M112.9 438.5h0M113.1 437.5h0M113.2 436.5h0M113.4 435.4h0M113.6 434.4h0M113.7 433.4h0M113.9 432.4h0M114.1 431.4h0M114.3 430.4h0M114.4 429.4h0M114.6 428.4h0M114.8 427.4h0M114.9 426.4h0M115.1 425.4h0M115.3 424.4h0M115.7 423.5h0M119 422.7h0M122.3 421.8h0M124.6 421h0M126.4 420.1h0M128.2 419.2h0M129.9 418.1h0M130.5 417.1h0M131 416.1h0M131.4 415.1h0M131.6 414.1h0M131.7 413.1h0M131.8 412.1h0M131.9 411.1h0M132.1 410.1h0M132.2 409.1h0M132.3 408.1h0M132.4 407.1h0M132.6 406.1h0M132.7 405.1h0M132.8 404.1h0M142.6 403.1h0M143.9 402.2h0M145.1 401.2h0M146.4 400.3h0M147.7 399.4h0M148.5 398.5h0M149 397.4h0M149.5 396.4h0M150 395.4h0M150.5 394.4h0M151 393.3h0M151.4 392.3h0M151.7 391.3h0M151.9 390.2h0M152.2 389.2h0M152.4 388.2h0M152.7 387.2h0M152.9 386.1h0M153.2 385.1h0M154.8 384.3h0M158.6 383.5h0M162.3 382.7h0M165.9 381.8h0M169.5 381h0M172 380h0M172.2 379h0M172.6 377.9h0M172.9 376.9h0M173.2 375.9h0M173.5 374.8h0M173.8 373.8h0M177.9 373h0M189 372.2h0M196.3 371.4h0M212.6 370.6h0M235.7 369.8h0M268.7 369h0M279.5 368.7h0" stroke="#1f77b4" stroke-width="3.0"/>
<polyline points="63,571 64.2,570.7 72.1,563.6 80.1,551.3 86.3,537.1 90.7,530.1 100.4,517.7 106.6,507.1 115.4,491.2 128.7,474.8 135.9,466.6 141,458.4 146.2,446.1 153.3,433.8 158.5,425.6 166.7,418.4 174.9,415.4 188,413.3 205.4,412.4 213.1,409.8 220.8,404.7 248.9,401.4 282.1,399.6 284.6,394.5 292.3,391.9 312.7,390.1 317.9,385.5 328.1,383.5 358.7,381" stroke="#ff7f0e" stroke-width="1.4"/>
<path d="M63 571h0M65 570h0M66 569.1h0M67 568.2h0M68 567.3h0M69 566.3h0M70.1 565.4h0M71.1 564.5h0M72.1 563.6h0M72.8 562.6h0M73.4 561.6h0M74.1 560.6h0M74.7 559.6h0M75.4 558.6h0M76 557.6h0M76.7 556.6h0M77.3 555.6h0M78 554.6h0M78.6 553.6h0M79.3 552.6h0M79.9 551.6h0M80.4 550.5h0M80.9 549.5h0M81.3 548.5h0M81.8 547.5h0M82.2 546.5h0M82.6 545.5h0M83.1 544.5h0M83.5 543.4h0M84 542.4h0M84.4 541.4h0M84.9 540.4h0M85.3 539.4h0M85.7 538.4h0M86.2 537.4h0M86.8 536.4h0M87.4 535.4h0M88 534.4h0M88.7 533.4h0M89.3 532.4h0M89.9 531.4h0M90.5 530.4h0M91.3 529.3h0M92.1 528.3h0M92.9 527.3h0M93.7 526.3h0M94.5 525.3h0M95.3 524.3h0M96 523.3h0M96.8 522.3h0M97.6 521.2h0M98.4 520.2h0M99.2 519.2h0M100 518.2h0M100.7 517.2h0M101.3 516.2h0M101.9 515.2h0M102.5 514.2h0M103.1 513.2h0M103.6 512.1h0M104.2 511.1h0M104.8 510.1h0M105.4 509.1h0M106 508.1h0M106.6 507.1h0M107.2 506.1h0M107.7 505.1h0M108.3 504.1h0M108.8 503.1h0M109.4 502.1h0M110 501h0M110.5 500h0M111.1 499h0M111.6 498h0M112.2 497h0M112.7 496h0M113.3 495h0M113.9 494h0M114.4 493h0M115 492h0M115.6 490.9h0M116.4 489.9h0M117.2 488.9h0M118.1 487.9h0M118.9 486.9h0M119.7 485.9h0M120.5 484.9h0M121.3 483.9h0M122.2 482.9h0M123 481.9h0M123.8 480.9h0M124.6 479.8h0M125.4 478.8h0M126.2 477.8h0M127.1 476.8h0M127.9 475.8h0M128.7 474.8h0M129.6 473.8h0M130.5 472.8h0M131.4 471.7h0M132.3 470.7h0M133.2 469.7h0M134.1 468.7h0M135 467.6h0M135.9 466.6h0M136.5 465.6h0M137.2 464.6h0M137.8 463.5h0M138.4 462.5h0M139.1 461.5h0M139.7 460.4h0M140.4 459.4h0M141 458.4h0M141.4 457.4h0M141.8 456.4h0M142.3 455.4h0M142.7 454.4h0M143.1 453.4h0M143.5 452.4h0M144 451.4h0M144.4 450.4h0M144.8 449.4h0M145.2 448.4h0M145.7 447.4h0M146.1 446.4h0M146.6 445.3h0M147.2 444.3h0M147.8 443.3h0M148.4 442.3h0M149 441.3h0M149.5 440.3h0M150.1 439.3h0M150.7 438.3h0M151.3 437.3h0M151.9 436.3h0M152.4 435.3h0M153 434.3h0M153.6 433.3h0M154.3 432.3h0M154.9 431.2h0M155.6 430.2h0M156.2 429.2h0M156.9 428.2h0M157.5 427.1h0M158.2 426.1h0M159 425.2h0M160 424.2h0M161.1 423.4h0M162.1 422.4h0M163.1 421.6h0M164.1 420.6h0M165.2 419.8h0M166.2 418.8h0M167.7 418h0M170 417.2h0M172.3 416.3h0M174.6 415.5h0M179.4 414.7h0M184.5 413.9h0M192.5 413.1h0M205.9 412.2h0M208.5 411.4h0M211 410.5h0M213.4 409.6h0M214.6 408.8h0M215.9 407.9h0M217.2 407.1h0M218.5 406.2h0M219.8 405.4h0M222.1 404.6h0M229.1 403.7h0M236.1 402.9h0M243.1 402.1h0M251.2 401.3h0M266 400.5h0M280.8 399.7h0M282.5 398.8h0M283 397.8h0M283.5 396.8h0M284 395.8h0M284.5 394.8h0M286.4 393.9h0M289 393h0M291.5 392.2h0M298.6 391.3h0M307.9 390.5h0M313.2 389.6h0M314.3 388.7h0M315.3 387.8h0M316.3 386.9h0M317.4 386h0M319.7 385.1h0M324 384.3h0M328.1 383.5h0M338.1 382.7h0M348.2 381.9h0M358.2 381h0M358.7 381h0" stroke="#ff7f0e" stroke-width="3.0"/>
<polyline points="63,571 67.7,567.2 77.4,554.8 86.3,540.7 96,530.1 104,521.2 116.3,505.3 123.4,491.2 132.5,477 139,466 145.1,446.1 150.3,427.7 154.4,415.4 158.5,408.2 162.6,400 172.8,394.9 181,390.8 188,389.7 205.4,386.8 220.8,385 248.9,383.5 287.2,381.5 325.5,379.7 358.7,378.7" stroke="#2ca02c" stroke-width="1.4"/>
<path d="M63 571h0M64 570.2h0M65.1 569.3h0M66.1 568.5h0M67.2 567.6h0M68.1 566.7h0M68.9 565.7h0M69.7 564.7h0M70.5 563.7h0M71.3 562.6h0M72.1 561.6h0M72.8 560.6h0M73.6 559.6h0M74.4 558.6h0M75.2 557.6h0M76 556.6h0M76.8 555.6h0M77.6 554.5h0M78.2 553.5h0M78.8 552.5h0M79.5 551.5h0M80.1 550.5h0M80.7 549.5h0M81.4 548.5h0M82 547.5h0M82.6 546.5h0M83.3 545.5h0M83.9 544.5h0M84.6 543.5h0M85.2 542.5h0M85.8 541.5h0M86.5 540.4h0M87.5 539.4h0M88.4 538.4h0M89.3 537.4h0M90.2 536.4h0M91.2 535.4h0M92.1 534.4h0M93 533.4h0M93.9 532.4h0M94.8 531.4h0M95.8 530.4h0M96.7 529.3h0M97.6 528.3h0M98.5 527.3h0M99.4 526.3h0M100.3 525.3h0M101.3 524.3h0M102.2 523.2h0M103.1 522.2h0M104 521.2h0M104.8 520.2h0M105.6 519.2h0M106.3 518.2h0M107.1 517.2h0M107.9 516.2h0M108.7 515.1h0M109.5 514.1h0M110.2 513.1h0M111 512.1h0M111.8 511.1h0M112.6 510.1h0M113.4 509.1h0M114.2 508.1h0M114.9 507.1h0M115.7 506.1h0M116.4 505h0M116.9 504h0M117.4 503h0M117.9 502h0M118.5 501h0M119 500h0M119.5 499h0M120 498h0M120.5 497h0M121 496h0M121.5 495h0M122 494h0M122.5 493h0M123 492h0M123.6 490.9h0M124.2 489.9h0M124.9 488.9h0M125.5 487.9h0M126.2 486.9h0M126.8 485.9h0M127.5 484.9h0M128.1 483.8h0M128.8 482.8h0M129.4 481.8h0M130.1 480.8h0M130.7 479.8h0M131.4 478.8h0M132 477.8h0M132.6 476.8h0M133.2 475.8h0M133.8 474.8h0M134.4 473.8h0M135 472.8h0M135.6 471.8h0M136.2 470.8h0M136.8 469.8h0M137.4 468.8h0M138 467.8h0M138.6 466.8h0M139.1 465.7h0M139.4 464.7h0M139.7 463.7h0M140 462.7h0M140.3 461.7h0M140.6 460.7h0M140.9 459.7h0M141.2 458.7h0M141.5 457.7h0M141.9 456.7h0M142.2 455.7h0M142.5 454.7h0M142.8 453.7h0M143.1 452.6h0M143.4 451.6h0M143.7 450.6h0M144 449.6h0M144.3 448.6h0M144.6 447.6h0M144.9 446.6h0M145.2 445.6h0M145.5 444.6h0M145.8 443.6h0M146.1 442.6h0M146.4 441.6h0M146.7 440.6h0M147 439.5h0M147.2 438.5h0M147.5 437.5h0M147.8 436.5h0M148.1 435.5h0M148.4 434.5h0M148.7 433.5h0M148.9 432.5h0M149.2 431.5h0M149.5 430.5h0M149.8 429.5h0M150.1 428.5h0M150.4 427.4h0M150.7 426.4h0M151.1 425.4h0M151.4 424.4h0M151.7 423.4h0M152.1 422.4h0M152.4 421.4h0M152.7 420.4h0M153.1 419.4h0M153.4 418.4h0M153.7 417.4h0M154.1 416.4h0M154.4 415.4h0M155 414.4h0M155.6 413.3h0M156.2 412.3h0M156.7 411.3h0M157.3 410.3h0M157.9 409.2h0M158.5 408.2h0M159 407.2h0M159.5 406.1h0M160 405.1h0M160.6 404.1h0M161.1 403.1h0M161.6 402.1h0M162.1 401h0M162.6 400h0M164.4 399.1h0M166.2 398.2h0M168 397.3h0M169.7 396.4h0M171.5 395.5h0M173.3 394.6h0M175.1 393.7h0M176.9 392.9h0M178.7 392h0M180.5 391.1h0M184.5 390.2h0M189.5 389.4h0M194.6 388.6h0M199.6 387.8h0M204.6 386.9h0M211.2 386.1h0M218.3 385.3h0M230.3 384.5h0M245.4 383.7h0M260.7 382.9h0M276.2 382.1h0M292.2 381.3h0M309.2 380.5h0M326.8 379.7h0M353.4 378.9h0M358.7 378.7h0" stroke="#2ca02c" stroke-width="3.0"/>
<polyline points="63,571 72.1,565.4 81,556.6 87.2,546 93.3,540.7 97.8,530.1 105.7,515.9 112.8,505.3 119.8,487.7 125.7,474.8 129.8,466.6 135.9,454.3 141,446.1 145.1,429.7 149.2,421.5 154.4,415.4 160.5,410.2 168.7,405.1 176.9,401 188,399.4 223.3,397.8 225.9,394 243.8,392.4 254,389.4 279.5,385.5 300,382.5 328.1,380.4 358.7,379.4" stroke="#d62728" stroke-width="1.4"/>
<path d="M63 571h0M64.5 570.1h0M66 569.1h0M67.5 568.2h0M69.1 567.3h0M70.6 566.3h0M72.1 565.4h0M73.1 564.4h0M74.1 563.4h0M75.2 562.4h0M76.2 561.4h0M77.2 560.4h0M78.2 559.4h0M79.2 558.4h0M80.2 557.4h0M81.1 556.3h0M81.7 555.3h0M82.3 554.3h0M82.9 553.3h0M83.5 552.3h0M84.1 551.3h0M84.7 550.3h0M85.3 549.3h0M85.9 548.3h0M86.5 547.3h0M87.1 546.3h0M88 545.3h0M89 544.5h0M90 543.6h0M91 542.7h0M92 541.8h0M93 540.9h0M93.6 539.9h0M94 538.9h0M94.5 537.9h0M94.9 536.9h0M95.3 535.9h0M95.8 534.9h0M96.2 533.9h0M96.6 532.9h0M97 531.9h0M97.5 530.9h0M97.9 529.8h0M98.5 528.8h0M99.1 527.8h0M99.6 526.8h0M100.2 525.8h0M100.8 524.8h0M101.3 523.8h0M101.9 522.7h0M102.5 521.7h0M103 520.7h0M103.6 519.7h0M104.1 518.7h0M104.7 517.7h0M105.3 516.7h0M105.9 515.6h0M106.5 514.6h0M107.2 513.6h0M107.9 512.6h0M108.6 511.6h0M109.2 510.6h0M109.9 509.6h0M110.6 508.6h0M111.3 507.6h0M112 506.6h0M112.6 505.6h0M113.1 504.5h0M113.5 503.5h0M113.9 502.5h0M114.3 501.5h0M114.7 500.5h0M115.1 499.5h0M115.5 498.5h0M115.9 497.5h0M116.3 496.5h0M116.7 495.5h0M117.1 494.5h0M117.5 493.5h0M117.9 492.5h0M118.3 491.5h0M118.7 490.5h0M119.1 489.5h0M119.5 488.5h0M119.9 487.4h0M120.4 486.4h0M120.8 485.4h0M121.3 484.4h0M121.8 483.4h0M122.2 482.4h0M122.7 481.4h0M123.2 480.4h0M123.6 479.4h0M124.1 478.3h0M124.5 477.3h0M125 476.3h0M125.5 475.3h0M126 474.3h0M126.5 473.3h0M127 472.2h0M127.5 471.2h0M128 470.2h0M128.5 469.2h0M129 468.1h0M129.5 467.1h0M130 466.1h0M130.5 465.1h0M131 464.1h0M131.5 463.1h0M132 462.1h0M132.5 461.1h0M133 460.1h0M133.5 459.1h0M134 458.1h0M134.5 457.1h0M135 456.1h0M135.5 455.1h0M136.1 454h0M136.7 453h0M137.3 452h0M138 451h0M138.6 449.9h0M139.2 448.9h0M139.9 447.9h0M140.5 446.9h0M141.1 445.8h0M141.3 444.8h0M141.6 443.8h0M141.8 442.8h0M142.1 441.8h0M142.3 440.8h0M142.6 439.8h0M142.8 438.8h0M143.1 437.8h0M143.3 436.8h0M143.6 435.8h0M143.8 434.7h0M144.1 433.7h0M144.3 432.7h0M144.6 431.7h0M144.8 430.7h0M145.1 429.7h0M145.6 428.7h0M146.1 427.6h0M146.6 426.6h0M147.1 425.6h0M147.7 424.6h0M148.2 423.6h0M148.7 422.5h0M149.2 421.5h0M150.1 420.5h0M150.9 419.5h0M151.8 418.4h0M152.7 417.4h0M153.5 416.4h0M154.4 415.4h0M155.4 414.5h0M156.4 413.7h0M157.4 412.8h0M158.5 411.9h0M159.5 411.1h0M160.5 410.2h0M162 409.2h0M163.6 408.3h0M165.1 407.3h0M166.6 406.4h0M168.2 405.4h0M169.7 404.6h0M171.5 403.7h0M173.3 402.8h0M175.1 401.9h0M176.9 401h0M182.4 400.2h0M188 399.4h0M205.8 398.6h0M223.5 397.5h0M224.2 396.5h0M224.9 395.5h0M225.6 394.5h0M229.4 393.7h0M238.5 392.9h0M245.1 392h0M247.9 391.2h0M250.7 390.4h0M253.5 389.5h0M258.5 388.7h0M263.8 387.9h0M269 387.1h0M274.2 386.3h0M279.5 385.5h0M285 384.7h0M290.5 383.9h0M296 383.1h0M303 382.3h0M313.8 381.5h0M324.6 380.7h0M344.7 379.9h0M358.7 379.4h0" stroke="#d62728" stroke-width="3.0"/>
<polyline points="63,571 64.2,570.7 75.7,563.6 86.3,554.8 94.2,549.5 98.6,537.1 102.2,526.5 109.2,515.9 118.1,505.3 128.7,496.5 136.5,488 142.1,484 150.3,476.9 156.4,471.7 168.7,469.7 181,468.7 185,467.3 195.2,460.9 210.5,455.8 233.5,449.9 236.1,446.9 261.6,441.2 269.3,436.6 279.5,430.3 297.4,426.4 312.7,420 338.3,414.2 351.1,412.4 358.7,407.3" stroke="#9467bd" stroke-width="1.4"/>
<path d="M63 571h0M65.2 570.1h0M66.7 569.2h0M68.2 568.2h0M69.7 567.3h0M71.2 566.4h0M72.7 565.5h0M74.2 564.5h0M75.7 563.6h0M76.7 562.8h0M77.7 561.9h0M78.7 561.1h0M79.7 560.2h0M80.7 559.4h0M81.8 558.6h0M82.8 557.7h0M83.8 556.9h0M84.8 556.1h0M85.8 555.2h0M87.1 554.3h0M88.3 553.4h0M89.6 552.6h0M90.9 551.7h0M92.2 550.9h0M93.4 550h0M94.4 549h0M94.7 548h0M95.1 547h0M95.5 546h0M95.8 544.9h0M96.2 543.9h0M96.5 542.9h0M96.9 541.9h0M97.3 540.9h0M97.6 539.9h0M98 538.9h0M98.3 537.9h0M98.7 536.8h0M99 535.8h0M99.4 534.8h0M99.7 533.8h0M100.1 532.8h0M100.4 531.8h0M100.7 530.8h0M101.1 529.8h0M101.4 528.8h0M101.8 527.8h0M102.1 526.8h0M102.7 525.7h0M103.4 524.7h0M104 523.7h0M104.7 522.7h0M105.4 521.7h0M106 520.7h0M106.7 519.7h0M107.4 518.7h0M108 517.7h0M108.7 516.7h0M109.4 515.6h0M110.3 514.6h0M111.1 513.6h0M112 512.6h0M112.8 511.6h0M113.7 510.6h0M114.5 509.6h0M115.3 508.6h0M116.2 507.6h0M117 506.6h0M117.9 505.6h0M118.9 504.7h0M119.9 503.8h0M120.9 503h0M121.9 502.2h0M122.9 501.3h0M123.9 500.5h0M124.9 499.6h0M125.9 498.8h0M126.9 498h0M127.9 497.1h0M128.9 496.2h0M129.8 495.2h0M130.8 494.2h0M131.7 493.2h0M132.6 492.2h0M133.5 491.2h0M134.4 490.2h0M135.4 489.2h0M136.3 488.2h0M137.5 487.3h0M138.8 486.4h0M140.1 485.5h0M141.3 484.5h0M142.6 483.6h0M143.6 482.7h0M144.7 481.8h0M145.7 480.9h0M146.7 480h0M147.7 479.1h0M148.8 478.2h0M149.8 477.3h0M150.8 476.5h0M151.8 475.6h0M152.8 474.7h0M153.9 473.9h0M154.9 473h0M155.9 472.1h0M158.7 471.3h0M163.7 470.5h0M168.7 469.7h0M178.7 468.9h0M183 468h0M185.3 467.1h0M186.8 466.2h0M188.1 465.4h0M189.3 464.6h0M190.6 463.8h0M191.9 463h0M193.4 462h0M194.7 461.2h0M196.7 460.4h0M199.2 459.6h0M201.7 458.7h0M204.2 457.9h0M206.7 457.1h0M209.2 456.2h0M212 455.4h0M215.2 454.6h0M218.5 453.7h0M221.8 452.9h0M225 452.1h0M228.2 451.2h0M231.5 450.4h0M233.9 449.4h0M234.8 448.4h0M235.7 447.4h0M237.6 446.6h0M241.3 445.7h0M245.1 444.9h0M248.9 444h0M252.6 443.2h0M256.4 442.4h0M260.1 441.5h0M262.6 440.6h0M264.2 439.7h0M265.7 438.7h0M267.2 437.8h0M268.8 436.9h0M270.3 436h0M271.9 435h0M273.4 434.1h0M274.9 433.1h0M276.4 432.2h0M278 431.2h0M279.5 430.3h0M283.3 429.5h0M287.1 428.7h0M290.8 427.8h0M294.6 427h0M297.9 426.2h0M299.9 425.4h0M301.9 424.5h0M303.9 423.7h0M305.9 422.8h0M307.9 422h0M309.9 421.2h0M311.9 420.3h0M315 419.5h0M318.7 418.6h0M322.5 417.8h0M326.3 416.9h0M330 416.1h0M333.8 415.2h0M337.5 414.4h0M342.8 413.6h0M348.6 412.8h0M351.9 411.9h0M353.1 411h0M354.4 410.2h0M355.7 409.3h0M356.9 408.5h0M358.2 407.6h0M358.7 407.3h0" stroke="#9467bd" stroke-width="3.0"/>
</g>
<path d="M60.7,580.9 L60.7,358.9 L358.7,358.9 L358.7,580.9" fill="none" stroke="#707070" stroke-width="1.5"/>
<line x1="60" x2="359.4" y1="580.9" y2="580.9" stroke="#a5a5a5" stroke-width="2"/>
<rect x="197.8" y="462.7" width="152.8" height="110.3" rx="3" fill="#fff" fill-opacity="0.8" stroke="#dadada" stroke-width="1"/>
<line x1="202.4" x2="233" y1="474.2" y2="474.2" stroke="#1f77b4" stroke-width="1.6" stroke-opacity="0.8"/>
<circle cx="217.7" cy="474.2" r="1.7" fill="#1f77b4"/>
<text x="240.7" y="483.6" font-family="Liberation Sans, sans-serif" font-size="17" fill="#262626">Γ:</text>
<text x="262.2" y="479.9" font-family="Liberation Sans, sans-serif" font-size="15.3" fill="#262626" textLength="83" lengthAdjust="spacingAndGlyphs">[0.53-0.55]</text>
<line x1="202.4" x2="233" y1="495.4" y2="495.4" stroke="#ff7f0e" stroke-width="1.6" stroke-opacity="0.8"/>
<circle cx="217.7" cy="495.4" r="1.7" fill="#ff7f0e"/>
<text x="240.7" y="504.8" font-family="Liberation Sans, sans-serif" font-size="17" fill="#262626">Γ:</text>
<text x="262.2" y="501.1" font-family="Liberation Sans, sans-serif" font-size="15.3" fill="#262626" textLength="83" lengthAdjust="spacingAndGlyphs">[0.50-0.51]</text>
<line x1="202.4" x2="233" y1="516.8" y2="516.8" stroke="#2ca02c" stroke-width="1.6" stroke-opacity="0.8"/>
<circle cx="217.7" cy="516.8" r="1.7" fill="#2ca02c"/>
<text x="240.7" y="526.2" font-family="Liberation Sans, sans-serif" font-size="17" fill="#262626">Γ:</text>
<text x="262.2" y="522.5" font-family="Liberation Sans, sans-serif" font-size="15.3" fill="#262626" textLength="83" lengthAdjust="spacingAndGlyphs">[0.47-0.48]</text>
<line x1="202.4" x2="233" y1="538" y2="538" stroke="#d62728" stroke-width="1.6" stroke-opacity="0.8"/>
<circle cx="217.7" cy="538" r="1.7" fill="#d62728"/>
<text x="240.7" y="547.4" font-family="Liberation Sans, sans-serif" font-size="17" fill="#262626">Γ:</text>
<text x="262.2" y="543.7" font-family="Liberation Sans, sans-serif" font-size="15.3" fill="#262626" textLength="83" lengthAdjust="spacingAndGlyphs">[0.45-0.46]</text>
<line x1="202.4" x2="233" y1="559.8" y2="559.8" stroke="#9467bd" stroke-width="1.6" stroke-opacity="0.8"/>
<circle cx="217.7" cy="559.8" r="1.7" fill="#9467bd"/>
<text x="240.7" y="569.2" font-family="Liberation Sans, sans-serif" font-size="17" fill="#262626">Γ:</text>
<text x="262.2" y="565.5" font-family="Liberation Sans, sans-serif" font-size="15.3" fill="#262626" textLength="83" lengthAdjust="spacingAndGlyphs">[0.35-0.43]</text>
<text x="54.4" y="578.1" font-family="Liberation Sans, sans-serif" font-size="17" text-anchor="end" fill="#111" textLength="24.2" lengthAdjust="spacingAndGlyphs">0.0</text>
<text x="54.4" y="537.5" font-family="Liberation Sans, sans-serif" font-size="17" text-anchor="end" fill="#111" textLength="24.2" lengthAdjust="spacingAndGlyphs">0.2</text>
<text x="54.4" y="496.8" font-family="Liberation Sans, sans-serif" font-size="17" text-anchor="end" fill="#111" textLength="24.2" lengthAdjust="spacingAndGlyphs">0.4</text>
<text x="54.4" y="456.2" font-family="Liberation Sans, sans-serif" font-size="17" text-anchor="end" fill="#111" textLength="24.2" lengthAdjust="spacingAndGlyphs">0.6</text>
<text x="54.4" y="415.5" font-family="Liberation Sans, sans-serif" font-size="17" text-anchor="end" fill="#111" textLength="24.2" lengthAdjust="spacingAndGlyphs">0.8</text>
<text x="54.4" y="374.9" font-family="Liberation Sans, sans-serif" font-size="17" text-anchor="end" fill="#111" textLength="24.2" lengthAdjust="spacingAndGlyphs">1.0</text>
<text x="67.2" y="602.6" font-family="Liberation Serif, serif" font-size="21.3" text-anchor="middle" fill="#111">0</text>
<text x="124.7" y="602.6" font-family="Liberation Serif, serif" font-size="21.3" text-anchor="middle" fill="#111">0.2</text>
<text x="188" y="602.6" font-family="Liberation Serif, serif" font-size="21.3" text-anchor="middle" fill="#111">0.4</text>
<text x="249.1" y="602.6" font-family="Liberation Serif, serif" font-size="21.3" text-anchor="middle" fill="#111">0.6</text>
<text x="307.9" y="602.6" font-family="Liberation Serif, serif" font-size="21.3" text-anchor="middle" fill="#111">0.8</text>
<text x="109.9" y="626.9" font-family="Liberation Serif, serif" font-size="24.8" fill="#111" textLength="211.9" lengthAdjust="spacingAndGlyphs">Positioning Error (m)</text>
<text transform="translate(18.2,596.5) rotate(-90)" x="0" y="0" font-family="Liberation Serif, serif" font-size="24.8" fill="#111" textLength="229.3" lengthAdjust="spacingAndGlyphs">Cumulative Probability</text>
<text x="-0.2" y="341.8" font-family="Liberation Sans, sans-serif" font-weight="bold" font-size="27.5" fill="#000" textLength="36" lengthAdjust="spacingAndGlyphs">(c)</text>
<clipPath id="clipD"><rect x="387.0" y="357" width="292.9" height="220"/></clipPath>
<line x1="387.0" x2="679.9" y1="568.7" y2="568.7" stroke="#d9d9d9" stroke-width="1.4"/>
<line x1="387.0" x2="679.9" y1="518.7" y2="518.7" stroke="#d9d9d9" stroke-width="1.4"/>
<line x1="387.0" x2="679.9" y1="468.8" y2="468.8" stroke="#d9d9d9" stroke-width="1.4"/>
<line x1="387.0" x2="679.9" y1="418.8" y2="418.8" stroke="#d9d9d9" stroke-width="1.4"/>
<line x1="387.0" x2="679.9" y1="368.8" y2="368.8" stroke="#d9d9d9" stroke-width="1.4"/>
<line x1="446.9" x2="446.9" y1="359.0" y2="577.0" stroke="#d9d9d9" stroke-width="1.4"/>
<line x1="506.9" x2="506.9" y1="359.0" y2="577.0" stroke="#d9d9d9" stroke-width="1.4"/>
<line x1="566.8" x2="566.8" y1="359.0" y2="577.0" stroke="#d9d9d9" stroke-width="1.4"/>
<line x1="626.5" x2="626.5" y1="359.0" y2="577.0" stroke="#d9d9d9" stroke-width="1.4"/>
<line x1="446.9" x2="446.9" y1="577.0" y2="580.2" stroke="#777" stroke-width="1.2"/>
<line x1="506.9" x2="506.9" y1="577.0" y2="580.2" stroke="#777" stroke-width="1.2"/>
<line x1="566.8" x2="566.8" y1="577.0" y2="580.2" stroke="#777" stroke-width="1.2"/>
<line x1="626.5" x2="626.5" y1="577.0" y2="580.2" stroke="#777" stroke-width="1.2"/>
<g clip-path="url(#clipD)" fill="none" stroke-linejoin="round" stroke-linecap="round">
<polyline points="389.4,567.4 394.8,560.8 401.3,551 407.9,540.2 412.2,527.1 416.6,516.2 424.2,505.3 430.7,494.4 437.3,487.9 440.5,477 444.9,472.7 447.2,467.3 452.5,464 456.5,452 461.5,446.5 465,445.1 473.2,440 475.8,433.3 486.5,429.7 499,415.4 511.5,411.9 522.3,402.2 547.3,400.1 575.9,396.8 580.2,390.4 601,389.3 636.7,387.5 654.6,383.2 679.9,382.5" stroke="#1f77b4" stroke-width="1.4"/>
<path d="M389.4 567.4h0M390.2 566.4h0M391.1 565.4h0M391.9 564.4h0M392.7 563.3h0M393.6 562.3h0M394.4 561.3h0M395.1 560.3h0M395.8 559.3h0M396.5 558.3h0M397.1 557.3h0M397.8 556.3h0M398.5 555.3h0M399.1 554.3h0M399.8 553.3h0M400.5 552.3h0M401.1 551.3h0M401.8 550.2h0M402.4 549.2h0M403 548.2h0M403.6 547.2h0M404.2 546.2h0M404.8 545.2h0M405.4 544.2h0M406.1 543.2h0M406.7 542.2h0M407.3 541.2h0M407.9 540.2h0M408.2 539.2h0M408.6 538.2h0M408.9 537.2h0M409.2 536.2h0M409.6 535.2h0M409.9 534.2h0M410.2 533.1h0M410.5 532.1h0M410.9 531.1h0M411.2 530.1h0M411.5 529.1h0M411.9 528.1h0M412.2 527.1h0M412.6 526.1h0M413 525.1h0M413.4 524.1h0M413.8 523h0M414.2 522h0M414.7 521h0M415.1 520h0M415.5 519h0M415.9 518h0M416.3 517h0M416.8 515.9h0M417.5 514.9h0M418.2 513.9h0M418.9 512.9h0M419.6 511.9h0M420.3 510.9h0M421 509.9h0M421.7 508.8h0M422.4 507.8h0M423.1 506.8h0M423.8 505.8h0M424.5 504.8h0M425.1 503.8h0M425.7 502.8h0M426.3 501.8h0M426.9 500.7h0M427.5 499.7h0M428.1 498.7h0M428.7 497.7h0M429.3 496.7h0M429.9 495.7h0M430.5 494.7h0M431.5 493.6h0M432.5 492.6h0M433.5 491.6h0M434.5 490.6h0M435.5 489.6h0M436.5 488.6h0M437.4 487.6h0M437.7 486.6h0M438 485.6h0M438.3 484.6h0M438.6 483.6h0M438.9 482.6h0M439.2 481.6h0M439.5 480.5h0M439.8 479.5h0M440.1 478.5h0M440.4 477.5h0M441 476.5h0M442.1 475.5h0M443.1 474.5h0M444.1 473.5h0M445 472.4h0M445.4 471.4h0M445.9 470.4h0M446.3 469.4h0M446.8 468.3h0M447.2 467.3h0M448.7 466.4h0M450.2 465.4h0M451.7 464.5h0M452.7 463.5h0M453 462.5h0M453.3 461.5h0M453.7 460.5h0M454 459.5h0M454.3 458.5h0M454.7 457.5h0M455 456.5h0M455.3 455.5h0M455.7 454.5h0M456 453.5h0M456.3 452.5h0M457 451.5h0M457.9 450.5h0M458.8 449.5h0M459.7 448.5h0M460.6 447.5h0M461.5 446.5h0M463.5 445.7h0M465.5 444.8h0M467.1 443.8h0M468.6 442.9h0M470.1 441.9h0M471.7 441h0M473.2 440h0M473.6 439h0M474 437.9h0M474.4 436.9h0M474.8 435.9h0M475.2 434.8h0M475.6 433.8h0M476.8 433h0M479.4 432.1h0M481.9 431.2h0M484.5 430.4h0M486.7 429.4h0M487.6 428.4h0M488.5 427.4h0M489.4 426.4h0M490.2 425.4h0M491.1 424.4h0M492 423.4h0M492.9 422.4h0M493.7 421.4h0M494.6 420.4h0M495.5 419.4h0M496.4 418.4h0M497.2 417.4h0M498.1 416.4h0M499 415.4h0M502 414.6h0M505 413.7h0M508 412.9h0M511 412h0M512.3 411.2h0M513.3 410.3h0M514.3 409.4h0M515.3 408.5h0M516.3 407.6h0M517.3 406.7h0M518.3 405.8h0M519.3 404.9h0M520.3 404h0M521.3 403.1h0M522.3 402.2h0M532 401.4h0M541.8 400.6h0M550.3 399.8h0M557.3 398.9h0M564.4 398.1h0M571.4 397.3h0M576.2 396.3h0M576.9 395.3h0M577.6 394.2h0M578.3 393.2h0M579 392.2h0M579.7 391.2h0M581 390.4h0M596.2 389.6h0M612.1 388.7h0M628.2 387.9h0M638.5 387.1h0M642 386.2h0M645.5 385.4h0M649.1 384.5h0M652.6 383.7h0M666.1 382.9h0M679.9 382.5h0" stroke="#1f77b4" stroke-width="3.0"/>
<polyline points="389.4,568 403.5,553.2 411.1,540.2 422,522.7 429.6,511.8 436.2,501 441.6,490.1 448.1,479.2 452.5,466.5 463,452 475,438.5 490.1,424.4 500.8,414.4 511.5,411.9 524,402.2 547.3,398.6 561.6,395.8 579.5,391.1 601,389.3 636.7,386.8 654.6,381.5 668.9,378.6 679.9,377.9" stroke="#ff7f0e" stroke-width="1.4"/>
<path d="M389.4 568h0M390.4 567h0M391.3 566h0M392.3 565h0M393.2 564h0M394.2 563h0M395.1 562h0M396.1 561h0M397 560h0M398 559h0M399 558h0M399.9 557h0M400.9 556h0M401.8 555h0M402.8 554h0M403.6 553h0M404.2 552h0M404.8 551h0M405.4 550h0M406 549h0M406.6 548h0M407.2 547h0M407.7 546h0M408.3 545h0M408.9 544h0M409.5 543h0M410.1 542h0M410.7 541h0M411.3 540h0M411.9 539h0M412.5 538h0M413.1 537h0M413.7 536h0M414.4 535h0M415 534h0M415.6 533h0M416.2 532h0M416.9 531h0M417.5 530h0M418.1 529h0M418.7 528h0M419.4 527h0M420 526h0M420.6 525h0M421.2 524h0M421.8 523h0M422.5 521.9h0M423.2 520.9h0M423.9 519.9h0M424.7 518.9h0M425.4 517.9h0M426.1 516.9h0M426.8 515.9h0M427.5 514.8h0M428.2 513.8h0M428.9 512.8h0M429.6 511.8h0M430.2 510.8h0M430.8 509.8h0M431.4 508.8h0M432.1 507.8h0M432.7 506.8h0M433.3 505.8h0M433.9 504.8h0M434.5 503.8h0M435.1 502.8h0M435.7 501.8h0M436.3 500.7h0M436.8 499.7h0M437.3 498.7h0M437.8 497.7h0M438.3 496.7h0M438.8 495.7h0M439.3 494.7h0M439.8 493.6h0M440.3 492.6h0M440.8 491.6h0M441.3 490.6h0M441.9 489.6h0M442.5 488.6h0M443.1 487.6h0M443.7 486.6h0M444.3 485.5h0M444.9 484.5h0M445.5 483.5h0M446.1 482.5h0M446.7 481.5h0M447.3 480.5h0M447.9 479.5h0M448.4 478.4h0M448.7 477.4h0M449.1 476.4h0M449.4 475.4h0M449.8 474.4h0M450.1 473.4h0M450.5 472.3h0M450.8 471.3h0M451.2 470.3h0M451.5 469.3h0M451.9 468.3h0M452.2 467.3h0M452.7 466.2h0M453.4 465.2h0M454.1 464.2h0M454.9 463.2h0M455.6 462.2h0M456.3 461.2h0M457 460.2h0M457.8 459.2h0M458.5 458.2h0M459.2 457.2h0M459.9 456.2h0M460.6 455.2h0M461.4 454.2h0M462.1 453.2h0M462.8 452.2h0M463.7 451.2h0M464.6 450.2h0M465.4 449.2h0M466.3 448.2h0M467.2 447.2h0M468.1 446.2h0M469 445.2h0M469.9 444.2h0M470.8 443.2h0M471.7 442.2h0M472.6 441.2h0M473.4 440.2h0M474.3 439.2h0M475.3 438.3h0M476.3 437.3h0M477.3 436.4h0M478.3 435.4h0M479.3 434.5h0M480.3 433.6h0M481.3 432.6h0M482.3 431.7h0M483.3 430.7h0M484.3 429.8h0M485.3 428.9h0M486.3 427.9h0M487.3 427h0M488.3 426h0M489.3 425.1h0M490.4 424.2h0M491.4 423.2h0M492.4 422.3h0M493.4 421.3h0M494.4 420.4h0M495.5 419.4h0M496.5 418.4h0M497.5 417.5h0M498.5 416.5h0M499.5 415.6h0M500.5 414.6h0M503.3 413.8h0M506.9 413h0M510.5 412.1h0M512.2 411.3h0M513.5 410.3h0M514.8 409.4h0M516 408.4h0M517.2 407.4h0M518.5 406.5h0M519.8 405.5h0M521 404.5h0M522.2 403.6h0M523.5 402.6h0M526.8 401.8h0M532 401h0M537.3 400.1h0M542.5 399.3h0M547.8 398.5h0M552.1 397.7h0M556.3 396.8h0M560.6 396h0M564.1 395.1h0M567.4 394.3h0M570.7 393.4h0M574 392.6h0M577.2 391.7h0M582 390.9h0M591.8 390.1h0M601.5 389.3h0M613.1 388.5h0M624.6 387.6h0M636.2 386.8h0M639.5 386h0M642.2 385.2h0M645 384.3h0M647.8 383.5h0M650.6 382.7h0M653.3 381.9h0M656.9 381h0M660.9 380.2h0M664.9 379.4h0M668.9 378.6h0M679.9 377.9h0" stroke="#ff7f0e" stroke-width="3.0"/>
<polyline points="393.7,566.3 404.6,557.6 413.3,544.5 425.3,527.1 435.1,514 446,503.1 453.6,490.1 462.3,474.8 468.6,467.3 472.1,461.8 480,450 492.5,438 508,422.6 522.3,415.4 536.6,410.1 547.3,406.5 583.1,405.8 611.7,402.9 626,399.3 640.3,394 654.6,392.2 679.9,390.4" stroke="#2ca02c" stroke-width="1.4"/>
<path d="M393.7 566.3h0M394.7 565.5h0M395.7 564.7h0M396.7 563.9h0M397.8 563.1h0M398.8 562.3h0M399.8 561.4h0M400.8 560.6h0M401.8 559.8h0M402.8 559h0M403.8 558.2h0M404.8 557.3h0M405.4 556.3h0M406.1 555.3h0M406.8 554.3h0M407.4 553.3h0M408.1 552.3h0M408.8 551.3h0M409.5 550.3h0M410.1 549.3h0M410.8 548.3h0M411.5 547.3h0M412.1 546.3h0M412.8 545.3h0M413.5 544.2h0M414.2 543.2h0M414.9 542.2h0M415.6 541.2h0M416.3 540.2h0M417 539.2h0M417.6 538.2h0M418.3 537.2h0M419 536.2h0M419.7 535.2h0M420.4 534.2h0M421.1 533.2h0M421.8 532.1h0M422.5 531.1h0M423.2 530.1h0M423.9 529.1h0M424.6 528.1h0M425.3 527.1h0M426.1 526.1h0M426.8 525.1h0M427.6 524.1h0M428.3 523.1h0M429.1 522.1h0M429.8 521.1h0M430.6 520h0M431.3 519h0M432.1 518h0M432.8 517h0M433.6 516h0M434.3 515h0M435.1 514h0M436.1 513h0M437.1 512h0M438.1 511h0M439.2 509.9h0M440.2 508.9h0M441.2 507.9h0M442.2 506.9h0M443.2 505.9h0M444.2 504.9h0M445.2 503.9h0M446.1 502.9h0M446.7 501.9h0M447.3 500.9h0M447.9 499.9h0M448.5 498.9h0M449.1 497.9h0M449.7 496.9h0M450.2 495.9h0M450.8 494.9h0M451.4 493.9h0M452 492.9h0M452.6 491.9h0M453.2 490.9h0M453.7 489.8h0M454.3 488.8h0M454.9 487.8h0M455.5 486.8h0M456 485.8h0M456.6 484.8h0M457.2 483.8h0M457.7 482.8h0M458.3 481.8h0M458.9 480.8h0M459.4 479.8h0M460 478.8h0M460.6 477.8h0M461.2 476.8h0M461.7 475.8h0M462.3 474.8h0M463.1 473.8h0M464 472.8h0M464.8 471.8h0M465.7 470.8h0M466.5 469.8h0M467.3 468.8h0M468.2 467.8h0M468.9 466.8h0M469.6 465.8h0M470.2 464.8h0M470.8 463.8h0M471.5 462.8h0M472.1 461.8h0M472.8 460.8h0M473.4 459.8h0M474.1 458.8h0M474.8 457.8h0M475.5 456.8h0M476.1 455.8h0M476.8 454.8h0M477.5 453.8h0M478.2 452.8h0M478.8 451.8h0M479.5 450.8h0M480.2 449.8h0M481.2 448.8h0M482.2 447.8h0M483.2 446.9h0M484.2 445.9h0M485.2 445h0M486.2 444h0M487.2 443h0M488.2 442.1h0M489.2 441.1h0M490.2 440.2h0M491.2 439.2h0M492.2 438.2h0M493.2 437.3h0M494.2 436.3h0M495.2 435.3h0M496.2 434.3h0M497.2 433.3h0M498.2 432.3h0M499.2 431.3h0M500.2 430.3h0M501.2 429.3h0M502.2 428.3h0M503.2 427.3h0M504.2 426.3h0M505.2 425.3h0M506.2 424.3h0M507.2 423.3h0M508.3 422.5h0M510 421.6h0M511.8 420.7h0M513.5 419.8h0M515.3 418.9h0M517 418.1h0M518.8 417.2h0M520.5 416.3h0M522.3 415.4h0M524.6 414.6h0M526.8 413.7h0M529.1 412.9h0M531.3 412.1h0M533.6 411.2h0M535.8 410.4h0M538.4 409.5h0M540.9 408.6h0M543.5 407.8h0M546 406.9h0M566.3 406.1h0M587.9 405.3h0M595.9 404.5h0M603.9 403.7h0M612 402.8h0M615.2 402h0M618.5 401.2h0M621.7 400.4h0M625 399.6h0M627.5 398.7h0M629.8 397.9h0M632 397.1h0M634.3 396.2h0M636.5 395.4h0M638.8 394.6h0M642.3 393.7h0M648.8 392.9h0M655.9 392.1h0M667.1 391.3h0M678.4 390.5h0M679.9 390.4h0" stroke="#2ca02c" stroke-width="3.0"/>
<polyline points="389.4,568 402.4,557.6 417.7,540.2 428.5,524.9 439.4,511.8 447,503.1 451.4,487.9 459,474.8 467.8,466.7 480,451.2 489.5,440 493.6,431.5 504.4,422.6 518.7,417.2 533,410.1 547.3,405.8 568.8,402.9 601,399.3 618.8,395.8 640.3,392.2 679.9,388.6" stroke="#d62728" stroke-width="1.4"/>
<path d="M389.4 568h0M390.6 567h0M391.9 566h0M393.1 565h0M394.4 564h0M395.6 563h0M396.9 562h0M398.1 561h0M399.4 560h0M400.6 559h0M401.9 558h0M402.8 557.1h0M403.7 556.1h0M404.6 555.1h0M405.5 554.1h0M406.4 553.1h0M407.3 552.1h0M408.2 551h0M409.1 550h0M409.9 549h0M410.8 548h0M411.7 547h0M412.6 546h0M413.5 545h0M414.4 544h0M415.3 543h0M416.1 542h0M417 541h0M417.9 539.9h0M418.6 538.9h0M419.3 537.9h0M420 536.9h0M420.7 535.9h0M421.4 534.9h0M422.1 533.9h0M422.8 532.9h0M423.5 531.9h0M424.3 530.9h0M425 529.9h0M425.7 528.9h0M426.4 527.9h0M427.1 526.9h0M427.8 525.9h0M428.5 524.9h0M429.3 523.9h0M430.2 522.9h0M431 521.9h0M431.9 520.9h0M432.7 519.9h0M433.5 518.9h0M434.4 517.8h0M435.2 516.8h0M436 515.8h0M436.9 514.8h0M437.7 513.8h0M438.6 512.8h0M439.4 511.8h0M440.3 510.8h0M441.2 509.8h0M442.1 508.7h0M443 507.7h0M443.9 506.7h0M444.8 505.7h0M445.7 504.6h0M446.6 503.6h0M447.1 502.6h0M447.4 501.6h0M447.7 500.6h0M448 499.6h0M448.3 498.5h0M448.6 497.5h0M448.9 496.5h0M449.2 495.5h0M449.5 494.5h0M449.8 493.5h0M450.1 492.5h0M450.4 491.4h0M450.7 490.4h0M451 489.4h0M451.3 488.4h0M451.7 487.4h0M452.3 486.4h0M452.9 485.4h0M453.4 484.4h0M454 483.4h0M454.6 482.4h0M455.2 481.4h0M455.8 480.3h0M456.4 479.3h0M457 478.3h0M457.5 477.3h0M458.1 476.3h0M458.7 475.3h0M459.5 474.3h0M460.5 473.4h0M461.5 472.5h0M462.5 471.6h0M463.5 470.6h0M464.5 469.7h0M465.5 468.8h0M466.5 467.9h0M467.5 466.9h0M468.4 465.9h0M469.2 464.9h0M470 463.9h0M470.8 462.9h0M471.5 461.9h0M472.3 460.9h0M473.1 459.9h0M473.9 458.9h0M474.7 457.9h0M475.5 456.9h0M476.3 455.9h0M477 454.9h0M477.8 453.9h0M478.6 452.9h0M479.4 451.9h0M480.2 450.9h0M481.1 449.9h0M481.9 448.9h0M482.8 447.9h0M483.7 446.9h0M484.5 445.9h0M485.4 444.8h0M486.3 443.8h0M487.1 442.8h0M488 441.8h0M488.9 440.8h0M489.6 439.8h0M490.1 438.8h0M490.6 437.8h0M491.1 436.8h0M491.6 435.8h0M492 434.8h0M492.5 433.8h0M493 432.8h0M493.5 431.8h0M494.4 430.9h0M495.4 430.1h0M496.4 429.2h0M497.4 428.4h0M498.4 427.6h0M499.4 426.7h0M500.4 425.9h0M501.4 425.1h0M502.4 424.3h0M503.4 423.4h0M504.4 422.6h0M506.7 421.7h0M508.9 420.9h0M511.2 420h0M513.4 419.2h0M515.7 418.3h0M517.9 417.5h0M520 416.6h0M521.7 415.7h0M523.5 414.8h0M525.2 414h0M527 413.1h0M528.7 412.2h0M530.5 411.3h0M532.2 410.5h0M534.5 409.6h0M537.3 408.8h0M540 408h0M542.8 407.2h0M545.5 406.3h0M549.5 405.5h0M555.5 404.7h0M561.5 403.9h0M567.5 403.1h0M574.6 402.3h0M581.9 401.4h0M589.2 400.6h0M596.5 399.8h0M602.5 399h0M606.8 398.2h0M611 397.3h0M615.3 396.5h0M619.5 395.7h0M624.5 394.8h0M629.5 394h0M634.5 393.2h0M639.5 392.3h0M647.8 391.5h0M656.8 390.7h0M665.9 389.9h0M674.9 389.1h0M679.9 388.6h0" stroke="#d62728" stroke-width="3.0"/>
<polyline points="400.5,568.3 401.3,567.4 409,557.6 419.8,542.3 430.7,527.1 433.1,524.5 437.8,520.7 441.6,516 444.5,511.2 447.3,508.4 453,503.7 460,496.1 469.9,487.9 476.4,479.2 484,469.2 494,457 507.5,443.5 522.3,429.7 533,424.4 547.3,417.2 565.2,413.6 583.1,411.9 611.7,406.5 640.3,401.1 661.7,397.6 679.9,395.8" stroke="#9467bd" stroke-width="1.4"/>
<path d="M400.5 568.3h0M401.3 567.4h0M402.1 566.4h0M402.9 565.4h0M403.7 564.4h0M404.5 563.4h0M405.2 562.4h0M406 561.4h0M406.8 560.4h0M407.6 559.4h0M408.4 558.4h0M409.2 557.3h0M409.9 556.3h0M410.6 555.3h0M411.3 554.3h0M412 553.3h0M412.7 552.3h0M413.4 551.3h0M414.1 550.3h0M414.8 549.3h0M415.6 548.3h0M416.3 547.3h0M417 546.3h0M417.7 545.3h0M418.4 544.3h0M419.1 543.3h0M419.8 542.3h0M420.5 541.3h0M421.3 540.3h0M422 539.3h0M422.7 538.2h0M423.4 537.2h0M424.2 536.2h0M424.9 535.2h0M425.6 534.2h0M426.3 533.2h0M427.1 532.2h0M427.8 531.2h0M428.5 530.1h0M429.2 529.1h0M430 528.1h0M430.7 527.1h0M431.7 526.1h0M432.6 525h0M433.6 524.1h0M434.7 523.2h0M435.7 522.4h0M436.8 521.5h0M437.8 520.7h0M438.6 519.7h0M439.5 518.6h0M440.3 517.6h0M441.2 516.5h0M441.9 515.5h0M442.5 514.5h0M443.1 513.5h0M443.7 512.5h0M444.3 511.5h0M445.3 510.4h0M446.3 509.4h0M447.3 508.4h0M448.3 507.5h0M449.4 506.7h0M450.4 505.8h0M451.4 505h0M452.5 504.1h0M453.5 503.2h0M454.4 502.2h0M455.3 501.2h0M456.3 500.2h0M457.2 499.1h0M458.1 498.1h0M459.1 497.1h0M460 496.1h0M461 495.3h0M462 494.4h0M463 493.6h0M464.1 492.7h0M465.1 491.9h0M466.1 491.1h0M467.1 490.2h0M468.1 489.4h0M469.1 488.5h0M470.1 487.6h0M470.9 486.6h0M471.6 485.6h0M472.4 484.6h0M473.1 483.5h0M473.9 482.5h0M474.7 481.5h0M475.4 480.5h0M476.2 479.5h0M477 478.4h0M477.7 477.4h0M478.5 476.4h0M479.2 475.4h0M480 474.4h0M480.8 473.4h0M481.5 472.4h0M482.3 471.4h0M483.1 470.4h0M483.8 469.4h0M484.6 468.4h0M485.5 467.4h0M486.3 466.4h0M487.1 465.4h0M488 464.4h0M488.8 463.4h0M489.6 462.3h0M490.5 461.3h0M491.3 460.3h0M492.1 459.3h0M493 458.3h0M493.8 457.3h0M494.8 456.2h0M495.8 455.2h0M496.8 454.2h0M497.8 453.2h0M498.8 452.2h0M499.8 451.2h0M500.8 450.2h0M501.8 449.2h0M502.8 448.2h0M503.8 447.2h0M504.8 446.2h0M505.8 445.2h0M506.8 444.2h0M507.8 443.3h0M508.8 442.3h0M509.8 441.4h0M510.8 440.5h0M511.8 439.5h0M512.8 438.6h0M513.8 437.7h0M514.8 436.7h0M515.8 435.8h0M516.8 434.8h0M517.8 433.9h0M518.8 433h0M519.8 432h0M520.8 431.1h0M521.8 430.2h0M523.1 429.3h0M524.8 428.4h0M526.6 427.6h0M528.4 426.7h0M530.2 425.8h0M532 424.9h0M533.8 424h0M535.5 423.1h0M537.3 422.3h0M539 421.4h0M540.8 420.5h0M542.5 419.6h0M544.3 418.7h0M546 417.8h0M548.3 417h0M552.3 416.2h0M556.4 415.4h0M560.4 414.6h0M564.4 413.8h0M572.3 412.9h0M580.8 412.1h0M586.4 411.3h0M590.6 410.5h0M594.9 409.7h0M599.2 408.9h0M603.4 408.1h0M607.7 407.3h0M612 406.5h0M616.2 405.6h0M620.5 404.8h0M624.7 404h0M629 403.2h0M633.3 402.4h0M637.5 401.6h0M642.1 400.8h0M647.1 400h0M652.1 399.2h0M657.2 398.3h0M662.5 397.5h0M670.5 396.7h0M678.6 395.9h0M679.9 395.8h0" stroke="#9467bd" stroke-width="3.0"/>
</g>
<path d="M387.0,577.0 L387.0,359.0 L679.9,359.0 L679.9,577.0" fill="none" stroke="#707070" stroke-width="1.5"/>
<line x1="386.3" x2="680.6" y1="577.0" y2="577.0" stroke="#a5a5a5" stroke-width="2"/>
<rect x="522.3" y="460.7" width="149.9" height="108.1" rx="3" fill="#fff" fill-opacity="0.8" stroke="#dadada" stroke-width="1"/>
<line x1="527.4" x2="556.8" y1="472.2" y2="472.2" stroke="#1f77b4" stroke-width="1.6" stroke-opacity="0.8"/>
<circle cx="542.1" cy="472.2" r="1.7" fill="#1f77b4"/>
<text x="565.7" y="481.6" font-family="Liberation Sans, sans-serif" font-size="17" fill="#262626">Γ:</text>
<text x="585.7" y="477.9" font-family="Liberation Sans, sans-serif" font-size="15.3" fill="#262626" textLength="81.5" lengthAdjust="spacingAndGlyphs">[0.53-0.56]</text>
<line x1="527.4" x2="556.8" y1="493.4" y2="493.4" stroke="#ff7f0e" stroke-width="1.6" stroke-opacity="0.8"/>
<circle cx="542.1" cy="493.4" r="1.7" fill="#ff7f0e"/>
<text x="565.7" y="502.8" font-family="Liberation Sans, sans-serif" font-size="17" fill="#262626">Γ:</text>
<text x="585.7" y="499.1" font-family="Liberation Sans, sans-serif" font-size="15.3" fill="#262626" textLength="81.5" lengthAdjust="spacingAndGlyphs">[0.50-0.51]</text>
<line x1="527.4" x2="556.8" y1="514.4" y2="514.4" stroke="#2ca02c" stroke-width="1.6" stroke-opacity="0.8"/>
<circle cx="542.1" cy="514.4" r="1.7" fill="#2ca02c"/>
<text x="565.7" y="523.8" font-family="Liberation Sans, sans-serif" font-size="17" fill="#262626">Γ:</text>
<text x="585.7" y="520.1" font-family="Liberation Sans, sans-serif" font-size="15.3" fill="#262626" textLength="81.5" lengthAdjust="spacingAndGlyphs">[0.47-0.48]</text>
<line x1="527.4" x2="556.8" y1="534.8" y2="534.8" stroke="#d62728" stroke-width="1.6" stroke-opacity="0.8"/>
<circle cx="542.1" cy="534.8" r="1.7" fill="#d62728"/>
<text x="565.7" y="544.2" font-family="Liberation Sans, sans-serif" font-size="17" fill="#262626">Γ:</text>
<text x="585.7" y="540.5" font-family="Liberation Sans, sans-serif" font-size="15.3" fill="#262626" textLength="81.5" lengthAdjust="spacingAndGlyphs">[0.44-0.46]</text>
<line x1="527.4" x2="556.8" y1="556" y2="556" stroke="#9467bd" stroke-width="1.6" stroke-opacity="0.8"/>
<circle cx="542.1" cy="556" r="1.7" fill="#9467bd"/>
<text x="565.7" y="565.4" font-family="Liberation Sans, sans-serif" font-size="17" fill="#262626">Γ:</text>
<text x="585.7" y="561.7" font-family="Liberation Sans, sans-serif" font-size="15.3" fill="#262626" textLength="81.5" lengthAdjust="spacingAndGlyphs">[0.35-0.42]</text>
<text x="391.1" y="599.2" font-family="Liberation Serif, serif" font-size="21.3" text-anchor="middle" fill="#111">0</text>
<text x="449" y="599.2" font-family="Liberation Serif, serif" font-size="21.3" text-anchor="middle" fill="#111">0.2</text>
<text x="513.6" y="599.2" font-family="Liberation Serif, serif" font-size="21.3" text-anchor="middle" fill="#111">0.4</text>
<text x="572.3" y="599.2" font-family="Liberation Serif, serif" font-size="21.3" text-anchor="middle" fill="#111">0.6</text>
<text x="632.9" y="599.2" font-family="Liberation Serif, serif" font-size="21.3" text-anchor="middle" fill="#111">0.8</text>
<text x="435.8" y="625.0" font-family="Liberation Serif, serif" font-size="24.8" fill="#111" textLength="211.6" lengthAdjust="spacingAndGlyphs">Positioning Error (m)</text>
<text x="387.3" y="341.8" font-family="Liberation Sans, sans-serif" font-weight="bold" font-size="27.5" fill="#000" textLength="36" lengthAdjust="spacingAndGlyphs">(d)</text>
</svg>
</body></html>
